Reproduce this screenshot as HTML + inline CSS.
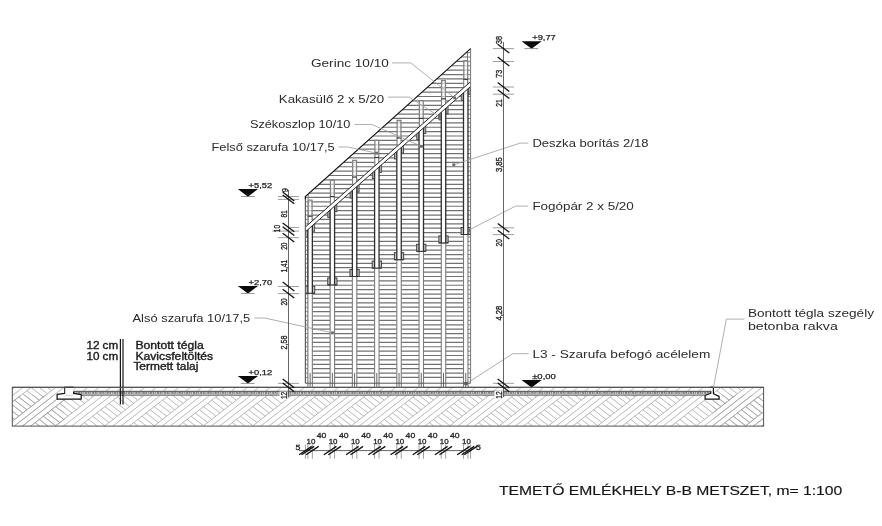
<!DOCTYPE html>
<html lang="hu">
<head>
<meta charset="utf-8">
<title>TEMETŐ EMLÉKHELY B-B METSZET</title>
<style>
html,body{margin:0;padding:0;background:#fff;}
body{width:882px;height:526px;overflow:hidden;}
svg{display:block;font-family:"Liberation Sans",sans-serif;filter:blur(0.5px);}
text{white-space:pre;}
</style>
</head>
<body>
<svg width="882" height="526" viewBox="0 0 882 526">
<rect width="882" height="526" fill="#fff"/>
<defs>
<clipPath id="cg"><rect x="12.3" y="395.1" width="751.3000000000001" height="31.0"/></clipPath>
<clipPath id="cgl"><rect x="12.3" y="387.3" width="52.5" height="38.80000000000001"/></clipPath>
<clipPath id="cgr"><rect x="713.4" y="387.3" width="50.200000000000045" height="38.80000000000001"/></clipPath>
<clipPath id="cbr"><rect x="73.5" y="387.3" width="637.3" height="4.0"/></clipPath>
<clipPath id="cwall"><polygon points="305.4,196.62 470.6,48.6 470.6,383.2 305.4,383.2"/></clipPath>
</defs>
<g clip-path="url(#cg)" stroke="#a2a2a2" stroke-width="0.75" fill="none">
<path d="M-1.81 374.60L10.51 384.20"/>
<path d="M-23.66 430.00L35.40 384.00"/>
<path d="M-31.87 430.00L27.19 384.00"/>
<path d="M-40.09 430.00L18.98 384.00"/>
<path d="M-48.30 430.00L10.76 384.00"/>
<path d="M-1.81 412.98L10.51 422.58"/>
<path d="M2.29 409.79L14.61 419.38"/>
<path d="M6.40 406.59L18.72 416.18"/>
<path d="M10.51 403.39L22.83 412.98"/>
<path d="M14.61 400.19L26.93 409.79"/>
<path d="M18.72 396.99L31.04 406.59"/>
<path d="M22.83 393.79L35.15 403.39"/>
<path d="M26.93 390.60L39.25 400.19"/>
<path d="M31.04 387.40L43.36 396.99"/>
<path d="M35.15 384.20L47.47 393.79"/>
<path d="M39.25 381.00L51.57 390.60"/>
<path d="M43.36 377.80L55.68 387.40"/>
<path d="M47.47 374.60L59.79 384.20"/>
<path d="M25.62 430.00L84.68 384.00"/>
<path d="M17.41 430.00L76.47 384.00"/>
<path d="M9.19 430.00L68.26 384.00"/>
<path d="M0.98 430.00L60.04 384.00"/>
<path d="M26.93 428.98L39.25 438.57"/>
<path d="M31.04 425.78L43.36 435.37"/>
<path d="M35.15 422.58L47.47 432.17"/>
<path d="M39.25 419.38L51.57 428.98"/>
<path d="M43.36 416.18L55.68 425.78"/>
<path d="M47.47 412.98L59.79 422.58"/>
<path d="M51.57 409.79L63.89 419.38"/>
<path d="M55.68 406.59L68.00 416.18"/>
<path d="M59.79 403.39L72.11 412.98"/>
<path d="M63.89 400.19L76.21 409.79"/>
<path d="M68.00 396.99L80.32 406.59"/>
<path d="M72.11 393.79L84.43 403.39"/>
<path d="M76.21 390.60L88.53 400.19"/>
<path d="M80.32 387.40L92.64 396.99"/>
<path d="M84.43 384.20L96.75 393.79"/>
<path d="M88.53 381.00L100.85 390.60"/>
<path d="M92.64 377.80L104.96 387.40"/>
<path d="M96.75 374.60L109.07 384.20"/>
<path d="M74.90 430.00L133.96 384.00"/>
<path d="M66.69 430.00L125.75 384.00"/>
<path d="M58.47 430.00L117.54 384.00"/>
<path d="M50.26 430.00L109.32 384.00"/>
<path d="M76.21 428.98L88.53 438.57"/>
<path d="M80.32 425.78L92.64 435.37"/>
<path d="M84.43 422.58L96.75 432.17"/>
<path d="M88.53 419.38L100.85 428.98"/>
<path d="M92.64 416.18L104.96 425.78"/>
<path d="M96.75 412.98L109.07 422.58"/>
<path d="M100.85 409.79L113.17 419.38"/>
<path d="M104.96 406.59L117.28 416.18"/>
<path d="M109.07 403.39L121.39 412.98"/>
<path d="M113.17 400.19L125.49 409.79"/>
<path d="M117.28 396.99L129.60 406.59"/>
<path d="M121.39 393.79L133.71 403.39"/>
<path d="M125.49 390.60L137.81 400.19"/>
<path d="M129.60 387.40L141.92 396.99"/>
<path d="M133.71 384.20L146.03 393.79"/>
<path d="M137.81 381.00L150.13 390.60"/>
<path d="M141.92 377.80L154.24 387.40"/>
<path d="M146.03 374.60L158.35 384.20"/>
<path d="M124.18 430.00L183.24 384.00"/>
<path d="M115.97 430.00L175.03 384.00"/>
<path d="M107.75 430.00L166.82 384.00"/>
<path d="M99.54 430.00L158.60 384.00"/>
<path d="M125.49 428.98L137.81 438.57"/>
<path d="M129.60 425.78L141.92 435.37"/>
<path d="M133.71 422.58L146.03 432.17"/>
<path d="M137.81 419.38L150.13 428.98"/>
<path d="M141.92 416.18L154.24 425.78"/>
<path d="M146.03 412.98L158.35 422.58"/>
<path d="M150.13 409.79L162.45 419.38"/>
<path d="M154.24 406.59L166.56 416.18"/>
<path d="M158.35 403.39L170.67 412.98"/>
<path d="M162.45 400.19L174.77 409.79"/>
<path d="M166.56 396.99L178.88 406.59"/>
<path d="M170.67 393.79L182.99 403.39"/>
<path d="M174.77 390.60L187.09 400.19"/>
<path d="M178.88 387.40L191.20 396.99"/>
<path d="M182.99 384.20L195.31 393.79"/>
<path d="M187.09 381.00L199.41 390.60"/>
<path d="M191.20 377.80L203.52 387.40"/>
<path d="M195.31 374.60L207.63 384.20"/>
<path d="M173.46 430.00L232.52 384.00"/>
<path d="M165.25 430.00L224.31 384.00"/>
<path d="M157.03 430.00L216.10 384.00"/>
<path d="M148.82 430.00L207.88 384.00"/>
<path d="M174.77 428.98L187.09 438.57"/>
<path d="M178.88 425.78L191.20 435.37"/>
<path d="M182.99 422.58L195.31 432.17"/>
<path d="M187.09 419.38L199.41 428.98"/>
<path d="M191.20 416.18L203.52 425.78"/>
<path d="M195.31 412.98L207.63 422.58"/>
<path d="M199.41 409.79L211.73 419.38"/>
<path d="M203.52 406.59L215.84 416.18"/>
<path d="M207.63 403.39L219.95 412.98"/>
<path d="M211.73 400.19L224.05 409.79"/>
<path d="M215.84 396.99L228.16 406.59"/>
<path d="M219.95 393.79L232.27 403.39"/>
<path d="M224.05 390.60L236.37 400.19"/>
<path d="M228.16 387.40L240.48 396.99"/>
<path d="M232.27 384.20L244.59 393.79"/>
<path d="M236.37 381.00L248.69 390.60"/>
<path d="M240.48 377.80L252.80 387.40"/>
<path d="M244.59 374.60L256.91 384.20"/>
<path d="M222.74 430.00L281.80 384.00"/>
<path d="M214.53 430.00L273.59 384.00"/>
<path d="M206.31 430.00L265.38 384.00"/>
<path d="M198.10 430.00L257.16 384.00"/>
<path d="M224.05 428.98L236.37 438.57"/>
<path d="M228.16 425.78L240.48 435.37"/>
<path d="M232.27 422.58L244.59 432.17"/>
<path d="M236.37 419.38L248.69 428.98"/>
<path d="M240.48 416.18L252.80 425.78"/>
<path d="M244.59 412.98L256.91 422.58"/>
<path d="M248.69 409.79L261.01 419.38"/>
<path d="M252.80 406.59L265.12 416.18"/>
<path d="M256.91 403.39L269.23 412.98"/>
<path d="M261.01 400.19L273.33 409.79"/>
<path d="M265.12 396.99L277.44 406.59"/>
<path d="M269.23 393.79L281.55 403.39"/>
<path d="M273.33 390.60L285.65 400.19"/>
<path d="M277.44 387.40L289.76 396.99"/>
<path d="M281.55 384.20L293.87 393.79"/>
<path d="M285.65 381.00L297.97 390.60"/>
<path d="M289.76 377.80L302.08 387.40"/>
<path d="M293.87 374.60L306.19 384.20"/>
<path d="M272.02 430.00L331.08 384.00"/>
<path d="M263.81 430.00L322.87 384.00"/>
<path d="M255.59 430.00L314.66 384.00"/>
<path d="M247.38 430.00L306.44 384.00"/>
<path d="M273.33 428.98L285.65 438.57"/>
<path d="M277.44 425.78L289.76 435.37"/>
<path d="M281.55 422.58L293.87 432.17"/>
<path d="M285.65 419.38L297.97 428.98"/>
<path d="M289.76 416.18L302.08 425.78"/>
<path d="M293.87 412.98L306.19 422.58"/>
<path d="M297.97 409.79L310.29 419.38"/>
<path d="M302.08 406.59L314.40 416.18"/>
<path d="M306.19 403.39L318.51 412.98"/>
<path d="M310.29 400.19L322.61 409.79"/>
<path d="M314.40 396.99L326.72 406.59"/>
<path d="M318.51 393.79L330.83 403.39"/>
<path d="M322.61 390.60L334.93 400.19"/>
<path d="M326.72 387.40L339.04 396.99"/>
<path d="M330.83 384.20L343.15 393.79"/>
<path d="M334.93 381.00L347.25 390.60"/>
<path d="M339.04 377.80L351.36 387.40"/>
<path d="M343.15 374.60L355.47 384.20"/>
<path d="M321.30 430.00L380.36 384.00"/>
<path d="M313.09 430.00L372.15 384.00"/>
<path d="M304.87 430.00L363.94 384.00"/>
<path d="M296.66 430.00L355.72 384.00"/>
<path d="M322.61 428.98L334.93 438.57"/>
<path d="M326.72 425.78L339.04 435.37"/>
<path d="M330.83 422.58L343.15 432.17"/>
<path d="M334.93 419.38L347.25 428.98"/>
<path d="M339.04 416.18L351.36 425.78"/>
<path d="M343.15 412.98L355.47 422.58"/>
<path d="M347.25 409.79L359.57 419.38"/>
<path d="M351.36 406.59L363.68 416.18"/>
<path d="M355.47 403.39L367.79 412.98"/>
<path d="M359.57 400.19L371.89 409.79"/>
<path d="M363.68 396.99L376.00 406.59"/>
<path d="M367.79 393.79L380.11 403.39"/>
<path d="M371.89 390.60L384.21 400.19"/>
<path d="M376.00 387.40L388.32 396.99"/>
<path d="M380.11 384.20L392.43 393.79"/>
<path d="M384.21 381.00L396.53 390.60"/>
<path d="M388.32 377.80L400.64 387.40"/>
<path d="M392.43 374.60L404.75 384.20"/>
<path d="M370.58 430.00L429.64 384.00"/>
<path d="M362.37 430.00L421.43 384.00"/>
<path d="M354.15 430.00L413.22 384.00"/>
<path d="M345.94 430.00L405.00 384.00"/>
<path d="M371.89 428.98L384.21 438.57"/>
<path d="M376.00 425.78L388.32 435.37"/>
<path d="M380.11 422.58L392.43 432.17"/>
<path d="M384.21 419.38L396.53 428.98"/>
<path d="M388.32 416.18L400.64 425.78"/>
<path d="M392.43 412.98L404.75 422.58"/>
<path d="M396.53 409.79L408.85 419.38"/>
<path d="M400.64 406.59L412.96 416.18"/>
<path d="M404.75 403.39L417.07 412.98"/>
<path d="M408.85 400.19L421.17 409.79"/>
<path d="M412.96 396.99L425.28 406.59"/>
<path d="M417.07 393.79L429.39 403.39"/>
<path d="M421.17 390.60L433.49 400.19"/>
<path d="M425.28 387.40L437.60 396.99"/>
<path d="M429.39 384.20L441.71 393.79"/>
<path d="M433.49 381.00L445.81 390.60"/>
<path d="M437.60 377.80L449.92 387.40"/>
<path d="M441.71 374.60L454.03 384.20"/>
<path d="M419.86 430.00L478.92 384.00"/>
<path d="M411.65 430.00L470.71 384.00"/>
<path d="M403.43 430.00L462.50 384.00"/>
<path d="M395.22 430.00L454.28 384.00"/>
<path d="M421.17 428.98L433.49 438.57"/>
<path d="M425.28 425.78L437.60 435.37"/>
<path d="M429.39 422.58L441.71 432.17"/>
<path d="M433.49 419.38L445.81 428.98"/>
<path d="M437.60 416.18L449.92 425.78"/>
<path d="M441.71 412.98L454.03 422.58"/>
<path d="M445.81 409.79L458.13 419.38"/>
<path d="M449.92 406.59L462.24 416.18"/>
<path d="M454.03 403.39L466.35 412.98"/>
<path d="M458.13 400.19L470.45 409.79"/>
<path d="M462.24 396.99L474.56 406.59"/>
<path d="M466.35 393.79L478.67 403.39"/>
<path d="M470.45 390.60L482.77 400.19"/>
<path d="M474.56 387.40L486.88 396.99"/>
<path d="M478.67 384.20L490.99 393.79"/>
<path d="M482.77 381.00L495.09 390.60"/>
<path d="M486.88 377.80L499.20 387.40"/>
<path d="M490.99 374.60L503.31 384.20"/>
<path d="M469.14 430.00L528.20 384.00"/>
<path d="M460.93 430.00L519.99 384.00"/>
<path d="M452.71 430.00L511.78 384.00"/>
<path d="M444.50 430.00L503.56 384.00"/>
<path d="M470.45 428.98L482.77 438.57"/>
<path d="M474.56 425.78L486.88 435.37"/>
<path d="M478.67 422.58L490.99 432.17"/>
<path d="M482.77 419.38L495.09 428.98"/>
<path d="M486.88 416.18L499.20 425.78"/>
<path d="M490.99 412.98L503.31 422.58"/>
<path d="M495.09 409.79L507.41 419.38"/>
<path d="M499.20 406.59L511.52 416.18"/>
<path d="M503.31 403.39L515.63 412.98"/>
<path d="M507.41 400.19L519.73 409.79"/>
<path d="M511.52 396.99L523.84 406.59"/>
<path d="M515.63 393.79L527.95 403.39"/>
<path d="M519.73 390.60L532.05 400.19"/>
<path d="M523.84 387.40L536.16 396.99"/>
<path d="M527.95 384.20L540.27 393.79"/>
<path d="M532.05 381.00L544.37 390.60"/>
<path d="M536.16 377.80L548.48 387.40"/>
<path d="M540.27 374.60L552.59 384.20"/>
<path d="M518.42 430.00L577.48 384.00"/>
<path d="M510.21 430.00L569.27 384.00"/>
<path d="M501.99 430.00L561.06 384.00"/>
<path d="M493.78 430.00L552.84 384.00"/>
<path d="M519.73 428.98L532.05 438.57"/>
<path d="M523.84 425.78L536.16 435.37"/>
<path d="M527.95 422.58L540.27 432.17"/>
<path d="M532.05 419.38L544.37 428.98"/>
<path d="M536.16 416.18L548.48 425.78"/>
<path d="M540.27 412.98L552.59 422.58"/>
<path d="M544.37 409.79L556.69 419.38"/>
<path d="M548.48 406.59L560.80 416.18"/>
<path d="M552.59 403.39L564.91 412.98"/>
<path d="M556.69 400.19L569.01 409.79"/>
<path d="M560.80 396.99L573.12 406.59"/>
<path d="M564.91 393.79L577.23 403.39"/>
<path d="M569.01 390.60L581.33 400.19"/>
<path d="M573.12 387.40L585.44 396.99"/>
<path d="M577.23 384.20L589.55 393.79"/>
<path d="M581.33 381.00L593.65 390.60"/>
<path d="M585.44 377.80L597.76 387.40"/>
<path d="M589.55 374.60L601.87 384.20"/>
<path d="M567.70 430.00L626.76 384.00"/>
<path d="M559.49 430.00L618.55 384.00"/>
<path d="M551.27 430.00L610.34 384.00"/>
<path d="M543.06 430.00L602.12 384.00"/>
<path d="M569.01 428.98L581.33 438.57"/>
<path d="M573.12 425.78L585.44 435.37"/>
<path d="M577.23 422.58L589.55 432.17"/>
<path d="M581.33 419.38L593.65 428.98"/>
<path d="M585.44 416.18L597.76 425.78"/>
<path d="M589.55 412.98L601.87 422.58"/>
<path d="M593.65 409.79L605.97 419.38"/>
<path d="M597.76 406.59L610.08 416.18"/>
<path d="M601.87 403.39L614.19 412.98"/>
<path d="M605.97 400.19L618.29 409.79"/>
<path d="M610.08 396.99L622.40 406.59"/>
<path d="M614.19 393.79L626.51 403.39"/>
<path d="M618.29 390.60L630.61 400.19"/>
<path d="M622.40 387.40L634.72 396.99"/>
<path d="M626.51 384.20L638.83 393.79"/>
<path d="M630.61 381.00L642.93 390.60"/>
<path d="M634.72 377.80L647.04 387.40"/>
<path d="M638.83 374.60L651.15 384.20"/>
<path d="M616.98 430.00L676.04 384.00"/>
<path d="M608.77 430.00L667.83 384.00"/>
<path d="M600.55 430.00L659.62 384.00"/>
<path d="M592.34 430.00L651.40 384.00"/>
<path d="M618.29 428.98L630.61 438.57"/>
<path d="M622.40 425.78L634.72 435.37"/>
<path d="M626.51 422.58L638.83 432.17"/>
<path d="M630.61 419.38L642.93 428.98"/>
<path d="M634.72 416.18L647.04 425.78"/>
<path d="M638.83 412.98L651.15 422.58"/>
<path d="M642.93 409.79L655.25 419.38"/>
<path d="M647.04 406.59L659.36 416.18"/>
<path d="M651.15 403.39L663.47 412.98"/>
<path d="M655.25 400.19L667.57 409.79"/>
<path d="M659.36 396.99L671.68 406.59"/>
<path d="M663.47 393.79L675.79 403.39"/>
<path d="M667.57 390.60L679.89 400.19"/>
<path d="M671.68 387.40L684.00 396.99"/>
<path d="M675.79 384.20L688.11 393.79"/>
<path d="M679.89 381.00L692.21 390.60"/>
<path d="M684.00 377.80L696.32 387.40"/>
<path d="M688.11 374.60L700.43 384.20"/>
<path d="M666.26 430.00L725.32 384.00"/>
<path d="M658.05 430.00L717.11 384.00"/>
<path d="M649.83 430.00L708.90 384.00"/>
<path d="M641.62 430.00L700.68 384.00"/>
<path d="M667.57 428.98L679.89 438.57"/>
<path d="M671.68 425.78L684.00 435.37"/>
<path d="M675.79 422.58L688.11 432.17"/>
<path d="M679.89 419.38L692.21 428.98"/>
<path d="M684.00 416.18L696.32 425.78"/>
<path d="M688.11 412.98L700.43 422.58"/>
<path d="M692.21 409.79L704.53 419.38"/>
<path d="M696.32 406.59L708.64 416.18"/>
<path d="M700.43 403.39L712.75 412.98"/>
<path d="M704.53 400.19L716.85 409.79"/>
<path d="M708.64 396.99L720.96 406.59"/>
<path d="M712.75 393.79L725.07 403.39"/>
<path d="M716.85 390.60L729.17 400.19"/>
<path d="M720.96 387.40L733.28 396.99"/>
<path d="M725.07 384.20L737.39 393.79"/>
<path d="M729.17 381.00L741.49 390.60"/>
<path d="M733.28 377.80L745.60 387.40"/>
<path d="M737.39 374.60L749.71 384.20"/>
<path d="M715.54 430.00L774.60 384.00"/>
<path d="M707.33 430.00L766.39 384.00"/>
<path d="M699.11 430.00L758.18 384.00"/>
<path d="M690.90 430.00L749.96 384.00"/>
<path d="M716.85 428.98L729.17 438.57"/>
<path d="M720.96 425.78L733.28 435.37"/>
<path d="M725.07 422.58L737.39 432.17"/>
<path d="M729.17 419.38L741.49 428.98"/>
<path d="M733.28 416.18L745.60 425.78"/>
<path d="M737.39 412.98L749.71 422.58"/>
<path d="M741.49 409.79L753.81 419.38"/>
<path d="M745.60 406.59L757.92 416.18"/>
<path d="M749.71 403.39L762.03 412.98"/>
<path d="M753.81 400.19L766.13 409.79"/>
<path d="M757.92 396.99L770.24 406.59"/>
<path d="M762.03 393.79L774.35 403.39"/>
<path d="M766.13 390.60L778.45 400.19"/>
<path d="M764.82 430.00L823.88 384.00"/>
<path d="M756.61 430.00L815.67 384.00"/>
<path d="M748.39 430.00L807.46 384.00"/>
<path d="M740.18 430.00L799.24 384.00"/>
<path d="M766.13 428.98L778.45 438.57"/>
</g>
<g clip-path="url(#cgl)" stroke="#a2a2a2" stroke-width="0.75" fill="none">
<path d="M-1.81 374.60L10.51 384.20"/>
<path d="M-23.66 430.00L35.40 384.00"/>
<path d="M-31.87 430.00L27.19 384.00"/>
<path d="M-40.09 430.00L18.98 384.00"/>
<path d="M-48.30 430.00L10.76 384.00"/>
<path d="M-1.81 412.98L10.51 422.58"/>
<path d="M2.29 409.79L14.61 419.38"/>
<path d="M6.40 406.59L18.72 416.18"/>
<path d="M10.51 403.39L22.83 412.98"/>
<path d="M14.61 400.19L26.93 409.79"/>
<path d="M18.72 396.99L31.04 406.59"/>
<path d="M22.83 393.79L35.15 403.39"/>
<path d="M26.93 390.60L39.25 400.19"/>
<path d="M31.04 387.40L43.36 396.99"/>
<path d="M35.15 384.20L47.47 393.79"/>
<path d="M39.25 381.00L51.57 390.60"/>
<path d="M43.36 377.80L55.68 387.40"/>
<path d="M47.47 374.60L59.79 384.20"/>
<path d="M25.62 430.00L84.68 384.00"/>
<path d="M17.41 430.00L76.47 384.00"/>
<path d="M9.19 430.00L68.26 384.00"/>
<path d="M0.98 430.00L60.04 384.00"/>
<path d="M26.93 428.98L39.25 438.57"/>
<path d="M31.04 425.78L43.36 435.37"/>
<path d="M35.15 422.58L47.47 432.17"/>
<path d="M39.25 419.38L51.57 428.98"/>
<path d="M43.36 416.18L55.68 425.78"/>
<path d="M47.47 412.98L59.79 422.58"/>
<path d="M51.57 409.79L63.89 419.38"/>
<path d="M55.68 406.59L68.00 416.18"/>
<path d="M59.79 403.39L72.11 412.98"/>
<path d="M63.89 400.19L76.21 409.79"/>
<path d="M68.00 396.99L80.32 406.59"/>
<path d="M72.11 393.79L84.43 403.39"/>
<path d="M76.21 390.60L88.53 400.19"/>
<path d="M80.32 387.40L92.64 396.99"/>
<path d="M84.43 384.20L96.75 393.79"/>
<path d="M88.53 381.00L100.85 390.60"/>
<path d="M92.64 377.80L104.96 387.40"/>
<path d="M96.75 374.60L109.07 384.20"/>
<path d="M74.90 430.00L133.96 384.00"/>
<path d="M66.69 430.00L125.75 384.00"/>
<path d="M58.47 430.00L117.54 384.00"/>
<path d="M50.26 430.00L109.32 384.00"/>
<path d="M76.21 428.98L88.53 438.57"/>
<path d="M80.32 425.78L92.64 435.37"/>
<path d="M84.43 422.58L96.75 432.17"/>
<path d="M88.53 419.38L100.85 428.98"/>
<path d="M92.64 416.18L104.96 425.78"/>
<path d="M96.75 412.98L109.07 422.58"/>
<path d="M100.85 409.79L113.17 419.38"/>
<path d="M104.96 406.59L117.28 416.18"/>
<path d="M109.07 403.39L121.39 412.98"/>
<path d="M113.17 400.19L125.49 409.79"/>
<path d="M117.28 396.99L129.60 406.59"/>
<path d="M121.39 393.79L133.71 403.39"/>
<path d="M125.49 390.60L137.81 400.19"/>
<path d="M129.60 387.40L141.92 396.99"/>
<path d="M133.71 384.20L146.03 393.79"/>
<path d="M137.81 381.00L150.13 390.60"/>
<path d="M141.92 377.80L154.24 387.40"/>
<path d="M146.03 374.60L158.35 384.20"/>
<path d="M124.18 430.00L183.24 384.00"/>
<path d="M115.97 430.00L175.03 384.00"/>
<path d="M107.75 430.00L166.82 384.00"/>
<path d="M99.54 430.00L158.60 384.00"/>
<path d="M125.49 428.98L137.81 438.57"/>
<path d="M129.60 425.78L141.92 435.37"/>
<path d="M133.71 422.58L146.03 432.17"/>
<path d="M137.81 419.38L150.13 428.98"/>
<path d="M141.92 416.18L154.24 425.78"/>
<path d="M146.03 412.98L158.35 422.58"/>
<path d="M150.13 409.79L162.45 419.38"/>
<path d="M154.24 406.59L166.56 416.18"/>
<path d="M158.35 403.39L170.67 412.98"/>
<path d="M162.45 400.19L174.77 409.79"/>
<path d="M166.56 396.99L178.88 406.59"/>
<path d="M170.67 393.79L182.99 403.39"/>
<path d="M174.77 390.60L187.09 400.19"/>
<path d="M178.88 387.40L191.20 396.99"/>
<path d="M182.99 384.20L195.31 393.79"/>
<path d="M187.09 381.00L199.41 390.60"/>
<path d="M191.20 377.80L203.52 387.40"/>
<path d="M195.31 374.60L207.63 384.20"/>
<path d="M173.46 430.00L232.52 384.00"/>
<path d="M165.25 430.00L224.31 384.00"/>
<path d="M157.03 430.00L216.10 384.00"/>
<path d="M148.82 430.00L207.88 384.00"/>
<path d="M174.77 428.98L187.09 438.57"/>
<path d="M178.88 425.78L191.20 435.37"/>
<path d="M182.99 422.58L195.31 432.17"/>
<path d="M187.09 419.38L199.41 428.98"/>
<path d="M191.20 416.18L203.52 425.78"/>
<path d="M195.31 412.98L207.63 422.58"/>
<path d="M199.41 409.79L211.73 419.38"/>
<path d="M203.52 406.59L215.84 416.18"/>
<path d="M207.63 403.39L219.95 412.98"/>
<path d="M211.73 400.19L224.05 409.79"/>
<path d="M215.84 396.99L228.16 406.59"/>
<path d="M219.95 393.79L232.27 403.39"/>
<path d="M224.05 390.60L236.37 400.19"/>
<path d="M228.16 387.40L240.48 396.99"/>
<path d="M232.27 384.20L244.59 393.79"/>
<path d="M236.37 381.00L248.69 390.60"/>
<path d="M240.48 377.80L252.80 387.40"/>
<path d="M244.59 374.60L256.91 384.20"/>
<path d="M222.74 430.00L281.80 384.00"/>
<path d="M214.53 430.00L273.59 384.00"/>
<path d="M206.31 430.00L265.38 384.00"/>
<path d="M198.10 430.00L257.16 384.00"/>
<path d="M224.05 428.98L236.37 438.57"/>
<path d="M228.16 425.78L240.48 435.37"/>
<path d="M232.27 422.58L244.59 432.17"/>
<path d="M236.37 419.38L248.69 428.98"/>
<path d="M240.48 416.18L252.80 425.78"/>
<path d="M244.59 412.98L256.91 422.58"/>
<path d="M248.69 409.79L261.01 419.38"/>
<path d="M252.80 406.59L265.12 416.18"/>
<path d="M256.91 403.39L269.23 412.98"/>
<path d="M261.01 400.19L273.33 409.79"/>
<path d="M265.12 396.99L277.44 406.59"/>
<path d="M269.23 393.79L281.55 403.39"/>
<path d="M273.33 390.60L285.65 400.19"/>
<path d="M277.44 387.40L289.76 396.99"/>
<path d="M281.55 384.20L293.87 393.79"/>
<path d="M285.65 381.00L297.97 390.60"/>
<path d="M289.76 377.80L302.08 387.40"/>
<path d="M293.87 374.60L306.19 384.20"/>
<path d="M272.02 430.00L331.08 384.00"/>
<path d="M263.81 430.00L322.87 384.00"/>
<path d="M255.59 430.00L314.66 384.00"/>
<path d="M247.38 430.00L306.44 384.00"/>
<path d="M273.33 428.98L285.65 438.57"/>
<path d="M277.44 425.78L289.76 435.37"/>
<path d="M281.55 422.58L293.87 432.17"/>
<path d="M285.65 419.38L297.97 428.98"/>
<path d="M289.76 416.18L302.08 425.78"/>
<path d="M293.87 412.98L306.19 422.58"/>
<path d="M297.97 409.79L310.29 419.38"/>
<path d="M302.08 406.59L314.40 416.18"/>
<path d="M306.19 403.39L318.51 412.98"/>
<path d="M310.29 400.19L322.61 409.79"/>
<path d="M314.40 396.99L326.72 406.59"/>
<path d="M318.51 393.79L330.83 403.39"/>
<path d="M322.61 390.60L334.93 400.19"/>
<path d="M326.72 387.40L339.04 396.99"/>
<path d="M330.83 384.20L343.15 393.79"/>
<path d="M334.93 381.00L347.25 390.60"/>
<path d="M339.04 377.80L351.36 387.40"/>
<path d="M343.15 374.60L355.47 384.20"/>
<path d="M321.30 430.00L380.36 384.00"/>
<path d="M313.09 430.00L372.15 384.00"/>
<path d="M304.87 430.00L363.94 384.00"/>
<path d="M296.66 430.00L355.72 384.00"/>
<path d="M322.61 428.98L334.93 438.57"/>
<path d="M326.72 425.78L339.04 435.37"/>
<path d="M330.83 422.58L343.15 432.17"/>
<path d="M334.93 419.38L347.25 428.98"/>
<path d="M339.04 416.18L351.36 425.78"/>
<path d="M343.15 412.98L355.47 422.58"/>
<path d="M347.25 409.79L359.57 419.38"/>
<path d="M351.36 406.59L363.68 416.18"/>
<path d="M355.47 403.39L367.79 412.98"/>
<path d="M359.57 400.19L371.89 409.79"/>
<path d="M363.68 396.99L376.00 406.59"/>
<path d="M367.79 393.79L380.11 403.39"/>
<path d="M371.89 390.60L384.21 400.19"/>
<path d="M376.00 387.40L388.32 396.99"/>
<path d="M380.11 384.20L392.43 393.79"/>
<path d="M384.21 381.00L396.53 390.60"/>
<path d="M388.32 377.80L400.64 387.40"/>
<path d="M392.43 374.60L404.75 384.20"/>
<path d="M370.58 430.00L429.64 384.00"/>
<path d="M362.37 430.00L421.43 384.00"/>
<path d="M354.15 430.00L413.22 384.00"/>
<path d="M345.94 430.00L405.00 384.00"/>
<path d="M371.89 428.98L384.21 438.57"/>
<path d="M376.00 425.78L388.32 435.37"/>
<path d="M380.11 422.58L392.43 432.17"/>
<path d="M384.21 419.38L396.53 428.98"/>
<path d="M388.32 416.18L400.64 425.78"/>
<path d="M392.43 412.98L404.75 422.58"/>
<path d="M396.53 409.79L408.85 419.38"/>
<path d="M400.64 406.59L412.96 416.18"/>
<path d="M404.75 403.39L417.07 412.98"/>
<path d="M408.85 400.19L421.17 409.79"/>
<path d="M412.96 396.99L425.28 406.59"/>
<path d="M417.07 393.79L429.39 403.39"/>
<path d="M421.17 390.60L433.49 400.19"/>
<path d="M425.28 387.40L437.60 396.99"/>
<path d="M429.39 384.20L441.71 393.79"/>
<path d="M433.49 381.00L445.81 390.60"/>
<path d="M437.60 377.80L449.92 387.40"/>
<path d="M441.71 374.60L454.03 384.20"/>
<path d="M419.86 430.00L478.92 384.00"/>
<path d="M411.65 430.00L470.71 384.00"/>
<path d="M403.43 430.00L462.50 384.00"/>
<path d="M395.22 430.00L454.28 384.00"/>
<path d="M421.17 428.98L433.49 438.57"/>
<path d="M425.28 425.78L437.60 435.37"/>
<path d="M429.39 422.58L441.71 432.17"/>
<path d="M433.49 419.38L445.81 428.98"/>
<path d="M437.60 416.18L449.92 425.78"/>
<path d="M441.71 412.98L454.03 422.58"/>
<path d="M445.81 409.79L458.13 419.38"/>
<path d="M449.92 406.59L462.24 416.18"/>
<path d="M454.03 403.39L466.35 412.98"/>
<path d="M458.13 400.19L470.45 409.79"/>
<path d="M462.24 396.99L474.56 406.59"/>
<path d="M466.35 393.79L478.67 403.39"/>
<path d="M470.45 390.60L482.77 400.19"/>
<path d="M474.56 387.40L486.88 396.99"/>
<path d="M478.67 384.20L490.99 393.79"/>
<path d="M482.77 381.00L495.09 390.60"/>
<path d="M486.88 377.80L499.20 387.40"/>
<path d="M490.99 374.60L503.31 384.20"/>
<path d="M469.14 430.00L528.20 384.00"/>
<path d="M460.93 430.00L519.99 384.00"/>
<path d="M452.71 430.00L511.78 384.00"/>
<path d="M444.50 430.00L503.56 384.00"/>
<path d="M470.45 428.98L482.77 438.57"/>
<path d="M474.56 425.78L486.88 435.37"/>
<path d="M478.67 422.58L490.99 432.17"/>
<path d="M482.77 419.38L495.09 428.98"/>
<path d="M486.88 416.18L499.20 425.78"/>
<path d="M490.99 412.98L503.31 422.58"/>
<path d="M495.09 409.79L507.41 419.38"/>
<path d="M499.20 406.59L511.52 416.18"/>
<path d="M503.31 403.39L515.63 412.98"/>
<path d="M507.41 400.19L519.73 409.79"/>
<path d="M511.52 396.99L523.84 406.59"/>
<path d="M515.63 393.79L527.95 403.39"/>
<path d="M519.73 390.60L532.05 400.19"/>
<path d="M523.84 387.40L536.16 396.99"/>
<path d="M527.95 384.20L540.27 393.79"/>
<path d="M532.05 381.00L544.37 390.60"/>
<path d="M536.16 377.80L548.48 387.40"/>
<path d="M540.27 374.60L552.59 384.20"/>
<path d="M518.42 430.00L577.48 384.00"/>
<path d="M510.21 430.00L569.27 384.00"/>
<path d="M501.99 430.00L561.06 384.00"/>
<path d="M493.78 430.00L552.84 384.00"/>
<path d="M519.73 428.98L532.05 438.57"/>
<path d="M523.84 425.78L536.16 435.37"/>
<path d="M527.95 422.58L540.27 432.17"/>
<path d="M532.05 419.38L544.37 428.98"/>
<path d="M536.16 416.18L548.48 425.78"/>
<path d="M540.27 412.98L552.59 422.58"/>
<path d="M544.37 409.79L556.69 419.38"/>
<path d="M548.48 406.59L560.80 416.18"/>
<path d="M552.59 403.39L564.91 412.98"/>
<path d="M556.69 400.19L569.01 409.79"/>
<path d="M560.80 396.99L573.12 406.59"/>
<path d="M564.91 393.79L577.23 403.39"/>
<path d="M569.01 390.60L581.33 400.19"/>
<path d="M573.12 387.40L585.44 396.99"/>
<path d="M577.23 384.20L589.55 393.79"/>
<path d="M581.33 381.00L593.65 390.60"/>
<path d="M585.44 377.80L597.76 387.40"/>
<path d="M589.55 374.60L601.87 384.20"/>
<path d="M567.70 430.00L626.76 384.00"/>
<path d="M559.49 430.00L618.55 384.00"/>
<path d="M551.27 430.00L610.34 384.00"/>
<path d="M543.06 430.00L602.12 384.00"/>
<path d="M569.01 428.98L581.33 438.57"/>
<path d="M573.12 425.78L585.44 435.37"/>
<path d="M577.23 422.58L589.55 432.17"/>
<path d="M581.33 419.38L593.65 428.98"/>
<path d="M585.44 416.18L597.76 425.78"/>
<path d="M589.55 412.98L601.87 422.58"/>
<path d="M593.65 409.79L605.97 419.38"/>
<path d="M597.76 406.59L610.08 416.18"/>
<path d="M601.87 403.39L614.19 412.98"/>
<path d="M605.97 400.19L618.29 409.79"/>
<path d="M610.08 396.99L622.40 406.59"/>
<path d="M614.19 393.79L626.51 403.39"/>
<path d="M618.29 390.60L630.61 400.19"/>
<path d="M622.40 387.40L634.72 396.99"/>
<path d="M626.51 384.20L638.83 393.79"/>
<path d="M630.61 381.00L642.93 390.60"/>
<path d="M634.72 377.80L647.04 387.40"/>
<path d="M638.83 374.60L651.15 384.20"/>
<path d="M616.98 430.00L676.04 384.00"/>
<path d="M608.77 430.00L667.83 384.00"/>
<path d="M600.55 430.00L659.62 384.00"/>
<path d="M592.34 430.00L651.40 384.00"/>
<path d="M618.29 428.98L630.61 438.57"/>
<path d="M622.40 425.78L634.72 435.37"/>
<path d="M626.51 422.58L638.83 432.17"/>
<path d="M630.61 419.38L642.93 428.98"/>
<path d="M634.72 416.18L647.04 425.78"/>
<path d="M638.83 412.98L651.15 422.58"/>
<path d="M642.93 409.79L655.25 419.38"/>
<path d="M647.04 406.59L659.36 416.18"/>
<path d="M651.15 403.39L663.47 412.98"/>
<path d="M655.25 400.19L667.57 409.79"/>
<path d="M659.36 396.99L671.68 406.59"/>
<path d="M663.47 393.79L675.79 403.39"/>
<path d="M667.57 390.60L679.89 400.19"/>
<path d="M671.68 387.40L684.00 396.99"/>
<path d="M675.79 384.20L688.11 393.79"/>
<path d="M679.89 381.00L692.21 390.60"/>
<path d="M684.00 377.80L696.32 387.40"/>
<path d="M688.11 374.60L700.43 384.20"/>
<path d="M666.26 430.00L725.32 384.00"/>
<path d="M658.05 430.00L717.11 384.00"/>
<path d="M649.83 430.00L708.90 384.00"/>
<path d="M641.62 430.00L700.68 384.00"/>
<path d="M667.57 428.98L679.89 438.57"/>
<path d="M671.68 425.78L684.00 435.37"/>
<path d="M675.79 422.58L688.11 432.17"/>
<path d="M679.89 419.38L692.21 428.98"/>
<path d="M684.00 416.18L696.32 425.78"/>
<path d="M688.11 412.98L700.43 422.58"/>
<path d="M692.21 409.79L704.53 419.38"/>
<path d="M696.32 406.59L708.64 416.18"/>
<path d="M700.43 403.39L712.75 412.98"/>
<path d="M704.53 400.19L716.85 409.79"/>
<path d="M708.64 396.99L720.96 406.59"/>
<path d="M712.75 393.79L725.07 403.39"/>
<path d="M716.85 390.60L729.17 400.19"/>
<path d="M720.96 387.40L733.28 396.99"/>
<path d="M725.07 384.20L737.39 393.79"/>
<path d="M729.17 381.00L741.49 390.60"/>
<path d="M733.28 377.80L745.60 387.40"/>
<path d="M737.39 374.60L749.71 384.20"/>
<path d="M715.54 430.00L774.60 384.00"/>
<path d="M707.33 430.00L766.39 384.00"/>
<path d="M699.11 430.00L758.18 384.00"/>
<path d="M690.90 430.00L749.96 384.00"/>
<path d="M716.85 428.98L729.17 438.57"/>
<path d="M720.96 425.78L733.28 435.37"/>
<path d="M725.07 422.58L737.39 432.17"/>
<path d="M729.17 419.38L741.49 428.98"/>
<path d="M733.28 416.18L745.60 425.78"/>
<path d="M737.39 412.98L749.71 422.58"/>
<path d="M741.49 409.79L753.81 419.38"/>
<path d="M745.60 406.59L757.92 416.18"/>
<path d="M749.71 403.39L762.03 412.98"/>
<path d="M753.81 400.19L766.13 409.79"/>
<path d="M757.92 396.99L770.24 406.59"/>
<path d="M762.03 393.79L774.35 403.39"/>
<path d="M766.13 390.60L778.45 400.19"/>
<path d="M764.82 430.00L823.88 384.00"/>
<path d="M756.61 430.00L815.67 384.00"/>
<path d="M748.39 430.00L807.46 384.00"/>
<path d="M740.18 430.00L799.24 384.00"/>
<path d="M766.13 428.98L778.45 438.57"/>
</g>
<g clip-path="url(#cgr)" stroke="#a2a2a2" stroke-width="0.75" fill="none">
<path d="M-1.81 374.60L10.51 384.20"/>
<path d="M-23.66 430.00L35.40 384.00"/>
<path d="M-31.87 430.00L27.19 384.00"/>
<path d="M-40.09 430.00L18.98 384.00"/>
<path d="M-48.30 430.00L10.76 384.00"/>
<path d="M-1.81 412.98L10.51 422.58"/>
<path d="M2.29 409.79L14.61 419.38"/>
<path d="M6.40 406.59L18.72 416.18"/>
<path d="M10.51 403.39L22.83 412.98"/>
<path d="M14.61 400.19L26.93 409.79"/>
<path d="M18.72 396.99L31.04 406.59"/>
<path d="M22.83 393.79L35.15 403.39"/>
<path d="M26.93 390.60L39.25 400.19"/>
<path d="M31.04 387.40L43.36 396.99"/>
<path d="M35.15 384.20L47.47 393.79"/>
<path d="M39.25 381.00L51.57 390.60"/>
<path d="M43.36 377.80L55.68 387.40"/>
<path d="M47.47 374.60L59.79 384.20"/>
<path d="M25.62 430.00L84.68 384.00"/>
<path d="M17.41 430.00L76.47 384.00"/>
<path d="M9.19 430.00L68.26 384.00"/>
<path d="M0.98 430.00L60.04 384.00"/>
<path d="M26.93 428.98L39.25 438.57"/>
<path d="M31.04 425.78L43.36 435.37"/>
<path d="M35.15 422.58L47.47 432.17"/>
<path d="M39.25 419.38L51.57 428.98"/>
<path d="M43.36 416.18L55.68 425.78"/>
<path d="M47.47 412.98L59.79 422.58"/>
<path d="M51.57 409.79L63.89 419.38"/>
<path d="M55.68 406.59L68.00 416.18"/>
<path d="M59.79 403.39L72.11 412.98"/>
<path d="M63.89 400.19L76.21 409.79"/>
<path d="M68.00 396.99L80.32 406.59"/>
<path d="M72.11 393.79L84.43 403.39"/>
<path d="M76.21 390.60L88.53 400.19"/>
<path d="M80.32 387.40L92.64 396.99"/>
<path d="M84.43 384.20L96.75 393.79"/>
<path d="M88.53 381.00L100.85 390.60"/>
<path d="M92.64 377.80L104.96 387.40"/>
<path d="M96.75 374.60L109.07 384.20"/>
<path d="M74.90 430.00L133.96 384.00"/>
<path d="M66.69 430.00L125.75 384.00"/>
<path d="M58.47 430.00L117.54 384.00"/>
<path d="M50.26 430.00L109.32 384.00"/>
<path d="M76.21 428.98L88.53 438.57"/>
<path d="M80.32 425.78L92.64 435.37"/>
<path d="M84.43 422.58L96.75 432.17"/>
<path d="M88.53 419.38L100.85 428.98"/>
<path d="M92.64 416.18L104.96 425.78"/>
<path d="M96.75 412.98L109.07 422.58"/>
<path d="M100.85 409.79L113.17 419.38"/>
<path d="M104.96 406.59L117.28 416.18"/>
<path d="M109.07 403.39L121.39 412.98"/>
<path d="M113.17 400.19L125.49 409.79"/>
<path d="M117.28 396.99L129.60 406.59"/>
<path d="M121.39 393.79L133.71 403.39"/>
<path d="M125.49 390.60L137.81 400.19"/>
<path d="M129.60 387.40L141.92 396.99"/>
<path d="M133.71 384.20L146.03 393.79"/>
<path d="M137.81 381.00L150.13 390.60"/>
<path d="M141.92 377.80L154.24 387.40"/>
<path d="M146.03 374.60L158.35 384.20"/>
<path d="M124.18 430.00L183.24 384.00"/>
<path d="M115.97 430.00L175.03 384.00"/>
<path d="M107.75 430.00L166.82 384.00"/>
<path d="M99.54 430.00L158.60 384.00"/>
<path d="M125.49 428.98L137.81 438.57"/>
<path d="M129.60 425.78L141.92 435.37"/>
<path d="M133.71 422.58L146.03 432.17"/>
<path d="M137.81 419.38L150.13 428.98"/>
<path d="M141.92 416.18L154.24 425.78"/>
<path d="M146.03 412.98L158.35 422.58"/>
<path d="M150.13 409.79L162.45 419.38"/>
<path d="M154.24 406.59L166.56 416.18"/>
<path d="M158.35 403.39L170.67 412.98"/>
<path d="M162.45 400.19L174.77 409.79"/>
<path d="M166.56 396.99L178.88 406.59"/>
<path d="M170.67 393.79L182.99 403.39"/>
<path d="M174.77 390.60L187.09 400.19"/>
<path d="M178.88 387.40L191.20 396.99"/>
<path d="M182.99 384.20L195.31 393.79"/>
<path d="M187.09 381.00L199.41 390.60"/>
<path d="M191.20 377.80L203.52 387.40"/>
<path d="M195.31 374.60L207.63 384.20"/>
<path d="M173.46 430.00L232.52 384.00"/>
<path d="M165.25 430.00L224.31 384.00"/>
<path d="M157.03 430.00L216.10 384.00"/>
<path d="M148.82 430.00L207.88 384.00"/>
<path d="M174.77 428.98L187.09 438.57"/>
<path d="M178.88 425.78L191.20 435.37"/>
<path d="M182.99 422.58L195.31 432.17"/>
<path d="M187.09 419.38L199.41 428.98"/>
<path d="M191.20 416.18L203.52 425.78"/>
<path d="M195.31 412.98L207.63 422.58"/>
<path d="M199.41 409.79L211.73 419.38"/>
<path d="M203.52 406.59L215.84 416.18"/>
<path d="M207.63 403.39L219.95 412.98"/>
<path d="M211.73 400.19L224.05 409.79"/>
<path d="M215.84 396.99L228.16 406.59"/>
<path d="M219.95 393.79L232.27 403.39"/>
<path d="M224.05 390.60L236.37 400.19"/>
<path d="M228.16 387.40L240.48 396.99"/>
<path d="M232.27 384.20L244.59 393.79"/>
<path d="M236.37 381.00L248.69 390.60"/>
<path d="M240.48 377.80L252.80 387.40"/>
<path d="M244.59 374.60L256.91 384.20"/>
<path d="M222.74 430.00L281.80 384.00"/>
<path d="M214.53 430.00L273.59 384.00"/>
<path d="M206.31 430.00L265.38 384.00"/>
<path d="M198.10 430.00L257.16 384.00"/>
<path d="M224.05 428.98L236.37 438.57"/>
<path d="M228.16 425.78L240.48 435.37"/>
<path d="M232.27 422.58L244.59 432.17"/>
<path d="M236.37 419.38L248.69 428.98"/>
<path d="M240.48 416.18L252.80 425.78"/>
<path d="M244.59 412.98L256.91 422.58"/>
<path d="M248.69 409.79L261.01 419.38"/>
<path d="M252.80 406.59L265.12 416.18"/>
<path d="M256.91 403.39L269.23 412.98"/>
<path d="M261.01 400.19L273.33 409.79"/>
<path d="M265.12 396.99L277.44 406.59"/>
<path d="M269.23 393.79L281.55 403.39"/>
<path d="M273.33 390.60L285.65 400.19"/>
<path d="M277.44 387.40L289.76 396.99"/>
<path d="M281.55 384.20L293.87 393.79"/>
<path d="M285.65 381.00L297.97 390.60"/>
<path d="M289.76 377.80L302.08 387.40"/>
<path d="M293.87 374.60L306.19 384.20"/>
<path d="M272.02 430.00L331.08 384.00"/>
<path d="M263.81 430.00L322.87 384.00"/>
<path d="M255.59 430.00L314.66 384.00"/>
<path d="M247.38 430.00L306.44 384.00"/>
<path d="M273.33 428.98L285.65 438.57"/>
<path d="M277.44 425.78L289.76 435.37"/>
<path d="M281.55 422.58L293.87 432.17"/>
<path d="M285.65 419.38L297.97 428.98"/>
<path d="M289.76 416.18L302.08 425.78"/>
<path d="M293.87 412.98L306.19 422.58"/>
<path d="M297.97 409.79L310.29 419.38"/>
<path d="M302.08 406.59L314.40 416.18"/>
<path d="M306.19 403.39L318.51 412.98"/>
<path d="M310.29 400.19L322.61 409.79"/>
<path d="M314.40 396.99L326.72 406.59"/>
<path d="M318.51 393.79L330.83 403.39"/>
<path d="M322.61 390.60L334.93 400.19"/>
<path d="M326.72 387.40L339.04 396.99"/>
<path d="M330.83 384.20L343.15 393.79"/>
<path d="M334.93 381.00L347.25 390.60"/>
<path d="M339.04 377.80L351.36 387.40"/>
<path d="M343.15 374.60L355.47 384.20"/>
<path d="M321.30 430.00L380.36 384.00"/>
<path d="M313.09 430.00L372.15 384.00"/>
<path d="M304.87 430.00L363.94 384.00"/>
<path d="M296.66 430.00L355.72 384.00"/>
<path d="M322.61 428.98L334.93 438.57"/>
<path d="M326.72 425.78L339.04 435.37"/>
<path d="M330.83 422.58L343.15 432.17"/>
<path d="M334.93 419.38L347.25 428.98"/>
<path d="M339.04 416.18L351.36 425.78"/>
<path d="M343.15 412.98L355.47 422.58"/>
<path d="M347.25 409.79L359.57 419.38"/>
<path d="M351.36 406.59L363.68 416.18"/>
<path d="M355.47 403.39L367.79 412.98"/>
<path d="M359.57 400.19L371.89 409.79"/>
<path d="M363.68 396.99L376.00 406.59"/>
<path d="M367.79 393.79L380.11 403.39"/>
<path d="M371.89 390.60L384.21 400.19"/>
<path d="M376.00 387.40L388.32 396.99"/>
<path d="M380.11 384.20L392.43 393.79"/>
<path d="M384.21 381.00L396.53 390.60"/>
<path d="M388.32 377.80L400.64 387.40"/>
<path d="M392.43 374.60L404.75 384.20"/>
<path d="M370.58 430.00L429.64 384.00"/>
<path d="M362.37 430.00L421.43 384.00"/>
<path d="M354.15 430.00L413.22 384.00"/>
<path d="M345.94 430.00L405.00 384.00"/>
<path d="M371.89 428.98L384.21 438.57"/>
<path d="M376.00 425.78L388.32 435.37"/>
<path d="M380.11 422.58L392.43 432.17"/>
<path d="M384.21 419.38L396.53 428.98"/>
<path d="M388.32 416.18L400.64 425.78"/>
<path d="M392.43 412.98L404.75 422.58"/>
<path d="M396.53 409.79L408.85 419.38"/>
<path d="M400.64 406.59L412.96 416.18"/>
<path d="M404.75 403.39L417.07 412.98"/>
<path d="M408.85 400.19L421.17 409.79"/>
<path d="M412.96 396.99L425.28 406.59"/>
<path d="M417.07 393.79L429.39 403.39"/>
<path d="M421.17 390.60L433.49 400.19"/>
<path d="M425.28 387.40L437.60 396.99"/>
<path d="M429.39 384.20L441.71 393.79"/>
<path d="M433.49 381.00L445.81 390.60"/>
<path d="M437.60 377.80L449.92 387.40"/>
<path d="M441.71 374.60L454.03 384.20"/>
<path d="M419.86 430.00L478.92 384.00"/>
<path d="M411.65 430.00L470.71 384.00"/>
<path d="M403.43 430.00L462.50 384.00"/>
<path d="M395.22 430.00L454.28 384.00"/>
<path d="M421.17 428.98L433.49 438.57"/>
<path d="M425.28 425.78L437.60 435.37"/>
<path d="M429.39 422.58L441.71 432.17"/>
<path d="M433.49 419.38L445.81 428.98"/>
<path d="M437.60 416.18L449.92 425.78"/>
<path d="M441.71 412.98L454.03 422.58"/>
<path d="M445.81 409.79L458.13 419.38"/>
<path d="M449.92 406.59L462.24 416.18"/>
<path d="M454.03 403.39L466.35 412.98"/>
<path d="M458.13 400.19L470.45 409.79"/>
<path d="M462.24 396.99L474.56 406.59"/>
<path d="M466.35 393.79L478.67 403.39"/>
<path d="M470.45 390.60L482.77 400.19"/>
<path d="M474.56 387.40L486.88 396.99"/>
<path d="M478.67 384.20L490.99 393.79"/>
<path d="M482.77 381.00L495.09 390.60"/>
<path d="M486.88 377.80L499.20 387.40"/>
<path d="M490.99 374.60L503.31 384.20"/>
<path d="M469.14 430.00L528.20 384.00"/>
<path d="M460.93 430.00L519.99 384.00"/>
<path d="M452.71 430.00L511.78 384.00"/>
<path d="M444.50 430.00L503.56 384.00"/>
<path d="M470.45 428.98L482.77 438.57"/>
<path d="M474.56 425.78L486.88 435.37"/>
<path d="M478.67 422.58L490.99 432.17"/>
<path d="M482.77 419.38L495.09 428.98"/>
<path d="M486.88 416.18L499.20 425.78"/>
<path d="M490.99 412.98L503.31 422.58"/>
<path d="M495.09 409.79L507.41 419.38"/>
<path d="M499.20 406.59L511.52 416.18"/>
<path d="M503.31 403.39L515.63 412.98"/>
<path d="M507.41 400.19L519.73 409.79"/>
<path d="M511.52 396.99L523.84 406.59"/>
<path d="M515.63 393.79L527.95 403.39"/>
<path d="M519.73 390.60L532.05 400.19"/>
<path d="M523.84 387.40L536.16 396.99"/>
<path d="M527.95 384.20L540.27 393.79"/>
<path d="M532.05 381.00L544.37 390.60"/>
<path d="M536.16 377.80L548.48 387.40"/>
<path d="M540.27 374.60L552.59 384.20"/>
<path d="M518.42 430.00L577.48 384.00"/>
<path d="M510.21 430.00L569.27 384.00"/>
<path d="M501.99 430.00L561.06 384.00"/>
<path d="M493.78 430.00L552.84 384.00"/>
<path d="M519.73 428.98L532.05 438.57"/>
<path d="M523.84 425.78L536.16 435.37"/>
<path d="M527.95 422.58L540.27 432.17"/>
<path d="M532.05 419.38L544.37 428.98"/>
<path d="M536.16 416.18L548.48 425.78"/>
<path d="M540.27 412.98L552.59 422.58"/>
<path d="M544.37 409.79L556.69 419.38"/>
<path d="M548.48 406.59L560.80 416.18"/>
<path d="M552.59 403.39L564.91 412.98"/>
<path d="M556.69 400.19L569.01 409.79"/>
<path d="M560.80 396.99L573.12 406.59"/>
<path d="M564.91 393.79L577.23 403.39"/>
<path d="M569.01 390.60L581.33 400.19"/>
<path d="M573.12 387.40L585.44 396.99"/>
<path d="M577.23 384.20L589.55 393.79"/>
<path d="M581.33 381.00L593.65 390.60"/>
<path d="M585.44 377.80L597.76 387.40"/>
<path d="M589.55 374.60L601.87 384.20"/>
<path d="M567.70 430.00L626.76 384.00"/>
<path d="M559.49 430.00L618.55 384.00"/>
<path d="M551.27 430.00L610.34 384.00"/>
<path d="M543.06 430.00L602.12 384.00"/>
<path d="M569.01 428.98L581.33 438.57"/>
<path d="M573.12 425.78L585.44 435.37"/>
<path d="M577.23 422.58L589.55 432.17"/>
<path d="M581.33 419.38L593.65 428.98"/>
<path d="M585.44 416.18L597.76 425.78"/>
<path d="M589.55 412.98L601.87 422.58"/>
<path d="M593.65 409.79L605.97 419.38"/>
<path d="M597.76 406.59L610.08 416.18"/>
<path d="M601.87 403.39L614.19 412.98"/>
<path d="M605.97 400.19L618.29 409.79"/>
<path d="M610.08 396.99L622.40 406.59"/>
<path d="M614.19 393.79L626.51 403.39"/>
<path d="M618.29 390.60L630.61 400.19"/>
<path d="M622.40 387.40L634.72 396.99"/>
<path d="M626.51 384.20L638.83 393.79"/>
<path d="M630.61 381.00L642.93 390.60"/>
<path d="M634.72 377.80L647.04 387.40"/>
<path d="M638.83 374.60L651.15 384.20"/>
<path d="M616.98 430.00L676.04 384.00"/>
<path d="M608.77 430.00L667.83 384.00"/>
<path d="M600.55 430.00L659.62 384.00"/>
<path d="M592.34 430.00L651.40 384.00"/>
<path d="M618.29 428.98L630.61 438.57"/>
<path d="M622.40 425.78L634.72 435.37"/>
<path d="M626.51 422.58L638.83 432.17"/>
<path d="M630.61 419.38L642.93 428.98"/>
<path d="M634.72 416.18L647.04 425.78"/>
<path d="M638.83 412.98L651.15 422.58"/>
<path d="M642.93 409.79L655.25 419.38"/>
<path d="M647.04 406.59L659.36 416.18"/>
<path d="M651.15 403.39L663.47 412.98"/>
<path d="M655.25 400.19L667.57 409.79"/>
<path d="M659.36 396.99L671.68 406.59"/>
<path d="M663.47 393.79L675.79 403.39"/>
<path d="M667.57 390.60L679.89 400.19"/>
<path d="M671.68 387.40L684.00 396.99"/>
<path d="M675.79 384.20L688.11 393.79"/>
<path d="M679.89 381.00L692.21 390.60"/>
<path d="M684.00 377.80L696.32 387.40"/>
<path d="M688.11 374.60L700.43 384.20"/>
<path d="M666.26 430.00L725.32 384.00"/>
<path d="M658.05 430.00L717.11 384.00"/>
<path d="M649.83 430.00L708.90 384.00"/>
<path d="M641.62 430.00L700.68 384.00"/>
<path d="M667.57 428.98L679.89 438.57"/>
<path d="M671.68 425.78L684.00 435.37"/>
<path d="M675.79 422.58L688.11 432.17"/>
<path d="M679.89 419.38L692.21 428.98"/>
<path d="M684.00 416.18L696.32 425.78"/>
<path d="M688.11 412.98L700.43 422.58"/>
<path d="M692.21 409.79L704.53 419.38"/>
<path d="M696.32 406.59L708.64 416.18"/>
<path d="M700.43 403.39L712.75 412.98"/>
<path d="M704.53 400.19L716.85 409.79"/>
<path d="M708.64 396.99L720.96 406.59"/>
<path d="M712.75 393.79L725.07 403.39"/>
<path d="M716.85 390.60L729.17 400.19"/>
<path d="M720.96 387.40L733.28 396.99"/>
<path d="M725.07 384.20L737.39 393.79"/>
<path d="M729.17 381.00L741.49 390.60"/>
<path d="M733.28 377.80L745.60 387.40"/>
<path d="M737.39 374.60L749.71 384.20"/>
<path d="M715.54 430.00L774.60 384.00"/>
<path d="M707.33 430.00L766.39 384.00"/>
<path d="M699.11 430.00L758.18 384.00"/>
<path d="M690.90 430.00L749.96 384.00"/>
<path d="M716.85 428.98L729.17 438.57"/>
<path d="M720.96 425.78L733.28 435.37"/>
<path d="M725.07 422.58L737.39 432.17"/>
<path d="M729.17 419.38L741.49 428.98"/>
<path d="M733.28 416.18L745.60 425.78"/>
<path d="M737.39 412.98L749.71 422.58"/>
<path d="M741.49 409.79L753.81 419.38"/>
<path d="M745.60 406.59L757.92 416.18"/>
<path d="M749.71 403.39L762.03 412.98"/>
<path d="M753.81 400.19L766.13 409.79"/>
<path d="M757.92 396.99L770.24 406.59"/>
<path d="M762.03 393.79L774.35 403.39"/>
<path d="M766.13 390.60L778.45 400.19"/>
<path d="M764.82 430.00L823.88 384.00"/>
<path d="M756.61 430.00L815.67 384.00"/>
<path d="M748.39 430.00L807.46 384.00"/>
<path d="M740.18 430.00L799.24 384.00"/>
<path d="M766.13 428.98L778.45 438.57"/>
</g>
<g clip-path="url(#cbr)" stroke="#d2d2d2" stroke-width="1.2">
<path d="M36.70 392L42.70 386.8"/>
<path d="M48.10 392L54.10 386.8"/>
<path d="M59.50 392L65.50 386.8"/>
<path d="M70.90 392L76.90 386.8"/>
<path d="M82.30 392L88.30 386.8"/>
<path d="M93.70 392L99.70 386.8"/>
<path d="M105.10 392L111.10 386.8"/>
<path d="M116.50 392L122.50 386.8"/>
<path d="M127.90 392L133.90 386.8"/>
<path d="M139.30 392L145.30 386.8"/>
<path d="M150.70 392L156.70 386.8"/>
<path d="M162.10 392L168.10 386.8"/>
<path d="M173.50 392L179.50 386.8"/>
<path d="M184.90 392L190.90 386.8"/>
<path d="M196.30 392L202.30 386.8"/>
<path d="M207.70 392L213.70 386.8"/>
<path d="M219.10 392L225.10 386.8"/>
<path d="M230.50 392L236.50 386.8"/>
<path d="M241.90 392L247.90 386.8"/>
<path d="M253.30 392L259.30 386.8"/>
<path d="M264.70 392L270.70 386.8"/>
<path d="M276.10 392L282.10 386.8"/>
<path d="M287.50 392L293.50 386.8"/>
<path d="M298.90 392L304.90 386.8"/>
<path d="M310.30 392L316.30 386.8"/>
<path d="M321.70 392L327.70 386.8"/>
<path d="M333.10 392L339.10 386.8"/>
<path d="M344.50 392L350.50 386.8"/>
<path d="M355.90 392L361.90 386.8"/>
<path d="M367.30 392L373.30 386.8"/>
<path d="M378.70 392L384.70 386.8"/>
<path d="M390.10 392L396.10 386.8"/>
<path d="M401.50 392L407.50 386.8"/>
<path d="M412.90 392L418.90 386.8"/>
<path d="M424.30 392L430.30 386.8"/>
<path d="M435.70 392L441.70 386.8"/>
<path d="M447.10 392L453.10 386.8"/>
<path d="M458.50 392L464.50 386.8"/>
<path d="M469.90 392L475.90 386.8"/>
<path d="M481.30 392L487.30 386.8"/>
<path d="M492.70 392L498.70 386.8"/>
<path d="M504.10 392L510.10 386.8"/>
<path d="M515.50 392L521.50 386.8"/>
<path d="M526.90 392L532.90 386.8"/>
<path d="M538.30 392L544.30 386.8"/>
<path d="M549.70 392L555.70 386.8"/>
<path d="M561.10 392L567.10 386.8"/>
<path d="M572.50 392L578.50 386.8"/>
<path d="M583.90 392L589.90 386.8"/>
<path d="M595.30 392L601.30 386.8"/>
<path d="M606.70 392L612.70 386.8"/>
<path d="M618.10 392L624.10 386.8"/>
<path d="M629.50 392L635.50 386.8"/>
<path d="M640.90 392L646.90 386.8"/>
<path d="M652.30 392L658.30 386.8"/>
<path d="M663.70 392L669.70 386.8"/>
<path d="M675.10 392L681.10 386.8"/>
<path d="M686.50 392L692.50 386.8"/>
<path d="M697.90 392L703.90 386.8"/>
<path d="M709.30 392L715.30 386.8"/>
</g>
<rect x="73.50" y="391.30" width="637.30" height="3.90" fill="#cccccc" stroke="none" stroke-width="1" />
<line x1="73.5" y1="392.9" x2="710.8" y2="392.9" stroke="#7a7a7a" stroke-width="1.7" stroke-dasharray="1.5 0.9 0.8 1.1 2.1 0.8"/>
<line x1="73.50" y1="391.30" x2="710.80" y2="391.30" stroke="#484848" stroke-width="1.0" />
<line x1="73.50" y1="395.20" x2="708.00" y2="395.20" stroke="#6a6a6a" stroke-width="1.0" />
<rect x="12.30" y="387.30" width="751.30" height="38.80" fill="none" stroke="#505050" stroke-width="1.0" />
<path d="M64.1 387.3H73.8" stroke="#111" stroke-width="1.3" fill="none"/>
<path d="M64.8 387.3V393.3L57.1 394.4V399.2H81.2V394.6L73.5 393.4V391.4" stroke="#111" stroke-width="1.2" fill="#fff" stroke-linejoin="round"/>
<rect x="65.50" y="388.00" width="7.40" height="6.00" fill="#fff" stroke="none" stroke-width="1" />
<line x1="65.50" y1="395.30" x2="73.40" y2="395.30" stroke="#bbb" stroke-width="0.7" />
<path d="M710.8 391.2V393.2L705.1 395.5V399.2H719.1V396.4L713.4 393.8V387.3" stroke="#111" stroke-width="1.2" fill="#fff" stroke-linejoin="round"/>
<path d="M710.2 387.3H713.9" stroke="#111" stroke-width="1.3" fill="none"/>
<line x1="120.40" y1="339.10" x2="120.40" y2="404.40" stroke="#1a1a1a" stroke-width="1.2" />
<line x1="123.00" y1="339.10" x2="123.00" y2="404.40" stroke="#1a1a1a" stroke-width="1.2" />
<g clip-path="url(#cwall)">
<rect x="305.40" y="40.00" width="165.20" height="343.20" fill="#fff" stroke="none" stroke-width="1" />
<line x1="305.40" y1="52.60" x2="470.60" y2="52.60" stroke="#727272" stroke-width="1.2" />
<line x1="305.40" y1="56.99" x2="470.60" y2="56.99" stroke="#727272" stroke-width="1.2" />
<line x1="305.40" y1="61.38" x2="470.60" y2="61.38" stroke="#727272" stroke-width="1.2" />
<line x1="305.40" y1="65.77" x2="470.60" y2="65.77" stroke="#727272" stroke-width="1.2" />
<line x1="305.40" y1="70.16" x2="470.60" y2="70.16" stroke="#727272" stroke-width="1.2" />
<line x1="305.40" y1="74.55" x2="470.60" y2="74.55" stroke="#727272" stroke-width="1.2" />
<line x1="305.40" y1="78.94" x2="470.60" y2="78.94" stroke="#727272" stroke-width="1.2" />
<line x1="305.40" y1="83.33" x2="470.60" y2="83.33" stroke="#727272" stroke-width="1.2" />
<line x1="305.40" y1="87.72" x2="470.60" y2="87.72" stroke="#727272" stroke-width="1.2" />
<line x1="305.40" y1="92.11" x2="470.60" y2="92.11" stroke="#727272" stroke-width="1.2" />
<line x1="305.40" y1="96.50" x2="470.60" y2="96.50" stroke="#727272" stroke-width="1.2" />
<line x1="305.40" y1="100.89" x2="470.60" y2="100.89" stroke="#727272" stroke-width="1.2" />
<line x1="305.40" y1="105.28" x2="470.60" y2="105.28" stroke="#727272" stroke-width="1.2" />
<line x1="305.40" y1="109.67" x2="470.60" y2="109.67" stroke="#727272" stroke-width="1.2" />
<line x1="305.40" y1="114.06" x2="470.60" y2="114.06" stroke="#727272" stroke-width="1.2" />
<line x1="305.40" y1="118.45" x2="470.60" y2="118.45" stroke="#727272" stroke-width="1.2" />
<line x1="305.40" y1="122.84" x2="470.60" y2="122.84" stroke="#727272" stroke-width="1.2" />
<line x1="305.40" y1="127.23" x2="470.60" y2="127.23" stroke="#727272" stroke-width="1.2" />
<line x1="305.40" y1="131.62" x2="470.60" y2="131.62" stroke="#727272" stroke-width="1.2" />
<line x1="305.40" y1="136.01" x2="470.60" y2="136.01" stroke="#727272" stroke-width="1.2" />
<line x1="305.40" y1="140.40" x2="470.60" y2="140.40" stroke="#727272" stroke-width="1.2" />
<line x1="305.40" y1="144.79" x2="470.60" y2="144.79" stroke="#727272" stroke-width="1.2" />
<line x1="305.40" y1="149.18" x2="470.60" y2="149.18" stroke="#727272" stroke-width="1.2" />
<line x1="305.40" y1="153.57" x2="470.60" y2="153.57" stroke="#727272" stroke-width="1.2" />
<line x1="305.40" y1="157.96" x2="470.60" y2="157.96" stroke="#727272" stroke-width="1.2" />
<line x1="305.40" y1="162.35" x2="470.60" y2="162.35" stroke="#727272" stroke-width="1.2" />
<line x1="305.40" y1="166.74" x2="470.60" y2="166.74" stroke="#727272" stroke-width="1.2" />
<line x1="305.40" y1="171.13" x2="470.60" y2="171.13" stroke="#727272" stroke-width="1.2" />
<line x1="305.40" y1="175.52" x2="470.60" y2="175.52" stroke="#727272" stroke-width="1.2" />
<line x1="305.40" y1="179.91" x2="470.60" y2="179.91" stroke="#727272" stroke-width="1.2" />
<line x1="305.40" y1="184.30" x2="470.60" y2="184.30" stroke="#727272" stroke-width="1.2" />
<line x1="305.40" y1="188.69" x2="470.60" y2="188.69" stroke="#727272" stroke-width="1.2" />
<line x1="305.40" y1="193.08" x2="470.60" y2="193.08" stroke="#727272" stroke-width="1.2" />
<line x1="305.40" y1="197.47" x2="470.60" y2="197.47" stroke="#727272" stroke-width="1.2" />
<line x1="305.40" y1="201.86" x2="470.60" y2="201.86" stroke="#727272" stroke-width="1.2" />
<line x1="305.40" y1="206.25" x2="470.60" y2="206.25" stroke="#727272" stroke-width="1.2" />
<line x1="305.40" y1="210.64" x2="470.60" y2="210.64" stroke="#727272" stroke-width="1.2" />
<line x1="305.40" y1="215.03" x2="470.60" y2="215.03" stroke="#727272" stroke-width="1.2" />
<line x1="305.40" y1="219.42" x2="470.60" y2="219.42" stroke="#727272" stroke-width="1.2" />
<line x1="305.40" y1="223.81" x2="470.60" y2="223.81" stroke="#727272" stroke-width="1.2" />
<line x1="305.40" y1="228.20" x2="470.60" y2="228.20" stroke="#727272" stroke-width="1.2" />
<line x1="305.40" y1="232.59" x2="470.60" y2="232.59" stroke="#727272" stroke-width="1.2" />
<line x1="305.40" y1="236.98" x2="470.60" y2="236.98" stroke="#727272" stroke-width="1.2" />
<line x1="305.40" y1="241.37" x2="470.60" y2="241.37" stroke="#727272" stroke-width="1.2" />
<line x1="305.40" y1="245.76" x2="470.60" y2="245.76" stroke="#727272" stroke-width="1.2" />
<line x1="305.40" y1="250.15" x2="470.60" y2="250.15" stroke="#727272" stroke-width="1.2" />
<line x1="305.40" y1="254.54" x2="470.60" y2="254.54" stroke="#727272" stroke-width="1.2" />
<line x1="305.40" y1="258.93" x2="470.60" y2="258.93" stroke="#727272" stroke-width="1.2" />
<line x1="305.40" y1="263.32" x2="470.60" y2="263.32" stroke="#727272" stroke-width="1.2" />
<line x1="305.40" y1="267.71" x2="470.60" y2="267.71" stroke="#727272" stroke-width="1.2" />
<line x1="305.40" y1="272.10" x2="470.60" y2="272.10" stroke="#727272" stroke-width="1.2" />
<line x1="305.40" y1="276.49" x2="470.60" y2="276.49" stroke="#727272" stroke-width="1.2" />
<line x1="305.40" y1="280.88" x2="470.60" y2="280.88" stroke="#727272" stroke-width="1.2" />
<line x1="305.40" y1="285.27" x2="470.60" y2="285.27" stroke="#727272" stroke-width="1.2" />
<line x1="305.40" y1="289.66" x2="470.60" y2="289.66" stroke="#727272" stroke-width="1.2" />
<line x1="305.40" y1="294.05" x2="470.60" y2="294.05" stroke="#727272" stroke-width="1.2" />
<line x1="305.40" y1="298.44" x2="470.60" y2="298.44" stroke="#727272" stroke-width="1.2" />
<line x1="305.40" y1="302.83" x2="470.60" y2="302.83" stroke="#727272" stroke-width="1.2" />
<line x1="305.40" y1="307.22" x2="470.60" y2="307.22" stroke="#727272" stroke-width="1.2" />
<line x1="305.40" y1="311.61" x2="470.60" y2="311.61" stroke="#727272" stroke-width="1.2" />
<line x1="305.40" y1="316.00" x2="470.60" y2="316.00" stroke="#727272" stroke-width="1.2" />
<line x1="305.40" y1="320.39" x2="470.60" y2="320.39" stroke="#727272" stroke-width="1.2" />
<line x1="305.40" y1="324.78" x2="470.60" y2="324.78" stroke="#727272" stroke-width="1.2" />
<line x1="305.40" y1="329.17" x2="470.60" y2="329.17" stroke="#727272" stroke-width="1.2" />
<line x1="305.40" y1="333.56" x2="470.60" y2="333.56" stroke="#727272" stroke-width="1.2" />
<line x1="305.40" y1="337.95" x2="470.60" y2="337.95" stroke="#727272" stroke-width="1.2" />
<line x1="305.40" y1="342.34" x2="470.60" y2="342.34" stroke="#727272" stroke-width="1.2" />
<line x1="305.40" y1="346.73" x2="470.60" y2="346.73" stroke="#727272" stroke-width="1.2" />
<line x1="305.40" y1="351.12" x2="470.60" y2="351.12" stroke="#727272" stroke-width="1.2" />
<line x1="305.40" y1="355.51" x2="470.60" y2="355.51" stroke="#727272" stroke-width="1.2" />
<line x1="305.40" y1="359.90" x2="470.60" y2="359.90" stroke="#727272" stroke-width="1.2" />
<line x1="305.40" y1="364.29" x2="470.60" y2="364.29" stroke="#727272" stroke-width="1.2" />
<line x1="305.40" y1="368.68" x2="470.60" y2="368.68" stroke="#727272" stroke-width="1.2" />
<line x1="305.40" y1="373.07" x2="470.60" y2="373.07" stroke="#727272" stroke-width="1.2" />
<line x1="305.40" y1="377.46" x2="470.60" y2="377.46" stroke="#727272" stroke-width="1.2" />
</g>
<rect x="305.40" y="195.36" width="2.80" height="187.84" fill="#fff" stroke="none" stroke-width="1" />
<line x1="305.40" y1="197.47" x2="308.20" y2="197.47" stroke="#8a8a8a" stroke-width="1.1" />
<line x1="305.40" y1="201.86" x2="308.20" y2="201.86" stroke="#8a8a8a" stroke-width="1.1" />
<line x1="305.40" y1="206.25" x2="308.20" y2="206.25" stroke="#8a8a8a" stroke-width="1.1" />
<line x1="305.40" y1="210.64" x2="308.20" y2="210.64" stroke="#8a8a8a" stroke-width="1.1" />
<line x1="305.40" y1="215.03" x2="308.20" y2="215.03" stroke="#8a8a8a" stroke-width="1.1" />
<line x1="305.40" y1="219.42" x2="308.20" y2="219.42" stroke="#8a8a8a" stroke-width="1.1" />
<line x1="305.40" y1="223.81" x2="308.20" y2="223.81" stroke="#8a8a8a" stroke-width="1.1" />
<line x1="305.40" y1="228.20" x2="308.20" y2="228.20" stroke="#8a8a8a" stroke-width="1.1" />
<line x1="305.40" y1="232.59" x2="308.20" y2="232.59" stroke="#8a8a8a" stroke-width="1.1" />
<line x1="305.40" y1="236.98" x2="308.20" y2="236.98" stroke="#8a8a8a" stroke-width="1.1" />
<line x1="305.40" y1="241.37" x2="308.20" y2="241.37" stroke="#8a8a8a" stroke-width="1.1" />
<line x1="305.40" y1="245.76" x2="308.20" y2="245.76" stroke="#8a8a8a" stroke-width="1.1" />
<line x1="305.40" y1="250.15" x2="308.20" y2="250.15" stroke="#8a8a8a" stroke-width="1.1" />
<line x1="305.40" y1="254.54" x2="308.20" y2="254.54" stroke="#8a8a8a" stroke-width="1.1" />
<line x1="305.40" y1="258.93" x2="308.20" y2="258.93" stroke="#8a8a8a" stroke-width="1.1" />
<line x1="305.40" y1="263.32" x2="308.20" y2="263.32" stroke="#8a8a8a" stroke-width="1.1" />
<line x1="305.40" y1="267.71" x2="308.20" y2="267.71" stroke="#8a8a8a" stroke-width="1.1" />
<line x1="305.40" y1="272.10" x2="308.20" y2="272.10" stroke="#8a8a8a" stroke-width="1.1" />
<line x1="305.40" y1="276.49" x2="308.20" y2="276.49" stroke="#8a8a8a" stroke-width="1.1" />
<line x1="305.40" y1="280.88" x2="308.20" y2="280.88" stroke="#8a8a8a" stroke-width="1.1" />
<line x1="305.40" y1="285.27" x2="308.20" y2="285.27" stroke="#8a8a8a" stroke-width="1.1" />
<line x1="305.40" y1="289.66" x2="308.20" y2="289.66" stroke="#8a8a8a" stroke-width="1.1" />
<line x1="305.40" y1="294.05" x2="308.20" y2="294.05" stroke="#8a8a8a" stroke-width="1.1" />
<line x1="305.40" y1="298.44" x2="308.20" y2="298.44" stroke="#8a8a8a" stroke-width="1.1" />
<line x1="305.40" y1="302.83" x2="308.20" y2="302.83" stroke="#8a8a8a" stroke-width="1.1" />
<line x1="305.40" y1="307.22" x2="308.20" y2="307.22" stroke="#8a8a8a" stroke-width="1.1" />
<line x1="305.40" y1="311.61" x2="308.20" y2="311.61" stroke="#8a8a8a" stroke-width="1.1" />
<line x1="305.40" y1="316.00" x2="308.20" y2="316.00" stroke="#8a8a8a" stroke-width="1.1" />
<line x1="305.40" y1="320.39" x2="308.20" y2="320.39" stroke="#8a8a8a" stroke-width="1.1" />
<line x1="305.40" y1="324.78" x2="308.20" y2="324.78" stroke="#8a8a8a" stroke-width="1.1" />
<line x1="305.40" y1="329.17" x2="308.20" y2="329.17" stroke="#8a8a8a" stroke-width="1.1" />
<line x1="305.40" y1="333.56" x2="308.20" y2="333.56" stroke="#8a8a8a" stroke-width="1.1" />
<line x1="305.40" y1="337.95" x2="308.20" y2="337.95" stroke="#8a8a8a" stroke-width="1.1" />
<line x1="305.40" y1="342.34" x2="308.20" y2="342.34" stroke="#8a8a8a" stroke-width="1.1" />
<line x1="305.40" y1="346.73" x2="308.20" y2="346.73" stroke="#8a8a8a" stroke-width="1.1" />
<line x1="305.40" y1="351.12" x2="308.20" y2="351.12" stroke="#8a8a8a" stroke-width="1.1" />
<line x1="305.40" y1="355.51" x2="308.20" y2="355.51" stroke="#8a8a8a" stroke-width="1.1" />
<line x1="305.40" y1="359.90" x2="308.20" y2="359.90" stroke="#8a8a8a" stroke-width="1.1" />
<line x1="305.40" y1="364.29" x2="308.20" y2="364.29" stroke="#8a8a8a" stroke-width="1.1" />
<line x1="305.40" y1="368.68" x2="308.20" y2="368.68" stroke="#8a8a8a" stroke-width="1.1" />
<line x1="305.40" y1="373.07" x2="308.20" y2="373.07" stroke="#8a8a8a" stroke-width="1.1" />
<line x1="305.40" y1="377.46" x2="308.20" y2="377.46" stroke="#8a8a8a" stroke-width="1.1" />
<line x1="308.20" y1="194.11" x2="308.20" y2="383.20" stroke="#6a6a6a" stroke-width="0.9" />
<rect x="467.46" y="50.01" width="3.14" height="333.19" fill="#fff" stroke="none" stroke-width="1" />
<line x1="467.46" y1="52.60" x2="470.60" y2="52.60" stroke="#8a8a8a" stroke-width="1.1" />
<line x1="467.46" y1="56.99" x2="470.60" y2="56.99" stroke="#8a8a8a" stroke-width="1.1" />
<line x1="467.46" y1="61.38" x2="470.60" y2="61.38" stroke="#8a8a8a" stroke-width="1.1" />
<line x1="467.46" y1="65.77" x2="470.60" y2="65.77" stroke="#8a8a8a" stroke-width="1.1" />
<line x1="467.46" y1="70.16" x2="470.60" y2="70.16" stroke="#8a8a8a" stroke-width="1.1" />
<line x1="467.46" y1="74.55" x2="470.60" y2="74.55" stroke="#8a8a8a" stroke-width="1.1" />
<line x1="467.46" y1="78.94" x2="470.60" y2="78.94" stroke="#8a8a8a" stroke-width="1.1" />
<line x1="467.46" y1="83.33" x2="470.60" y2="83.33" stroke="#8a8a8a" stroke-width="1.1" />
<line x1="467.46" y1="87.72" x2="470.60" y2="87.72" stroke="#8a8a8a" stroke-width="1.1" />
<line x1="467.46" y1="92.11" x2="470.60" y2="92.11" stroke="#8a8a8a" stroke-width="1.1" />
<line x1="467.46" y1="96.50" x2="470.60" y2="96.50" stroke="#8a8a8a" stroke-width="1.1" />
<line x1="467.46" y1="100.89" x2="470.60" y2="100.89" stroke="#8a8a8a" stroke-width="1.1" />
<line x1="467.46" y1="105.28" x2="470.60" y2="105.28" stroke="#8a8a8a" stroke-width="1.1" />
<line x1="467.46" y1="109.67" x2="470.60" y2="109.67" stroke="#8a8a8a" stroke-width="1.1" />
<line x1="467.46" y1="114.06" x2="470.60" y2="114.06" stroke="#8a8a8a" stroke-width="1.1" />
<line x1="467.46" y1="118.45" x2="470.60" y2="118.45" stroke="#8a8a8a" stroke-width="1.1" />
<line x1="467.46" y1="122.84" x2="470.60" y2="122.84" stroke="#8a8a8a" stroke-width="1.1" />
<line x1="467.46" y1="127.23" x2="470.60" y2="127.23" stroke="#8a8a8a" stroke-width="1.1" />
<line x1="467.46" y1="131.62" x2="470.60" y2="131.62" stroke="#8a8a8a" stroke-width="1.1" />
<line x1="467.46" y1="136.01" x2="470.60" y2="136.01" stroke="#8a8a8a" stroke-width="1.1" />
<line x1="467.46" y1="140.40" x2="470.60" y2="140.40" stroke="#8a8a8a" stroke-width="1.1" />
<line x1="467.46" y1="144.79" x2="470.60" y2="144.79" stroke="#8a8a8a" stroke-width="1.1" />
<line x1="467.46" y1="149.18" x2="470.60" y2="149.18" stroke="#8a8a8a" stroke-width="1.1" />
<line x1="467.46" y1="153.57" x2="470.60" y2="153.57" stroke="#8a8a8a" stroke-width="1.1" />
<line x1="467.46" y1="157.96" x2="470.60" y2="157.96" stroke="#8a8a8a" stroke-width="1.1" />
<line x1="467.46" y1="162.35" x2="470.60" y2="162.35" stroke="#8a8a8a" stroke-width="1.1" />
<line x1="467.46" y1="166.74" x2="470.60" y2="166.74" stroke="#8a8a8a" stroke-width="1.1" />
<line x1="467.46" y1="171.13" x2="470.60" y2="171.13" stroke="#8a8a8a" stroke-width="1.1" />
<line x1="467.46" y1="175.52" x2="470.60" y2="175.52" stroke="#8a8a8a" stroke-width="1.1" />
<line x1="467.46" y1="179.91" x2="470.60" y2="179.91" stroke="#8a8a8a" stroke-width="1.1" />
<line x1="467.46" y1="184.30" x2="470.60" y2="184.30" stroke="#8a8a8a" stroke-width="1.1" />
<line x1="467.46" y1="188.69" x2="470.60" y2="188.69" stroke="#8a8a8a" stroke-width="1.1" />
<line x1="467.46" y1="193.08" x2="470.60" y2="193.08" stroke="#8a8a8a" stroke-width="1.1" />
<line x1="467.46" y1="197.47" x2="470.60" y2="197.47" stroke="#8a8a8a" stroke-width="1.1" />
<line x1="467.46" y1="201.86" x2="470.60" y2="201.86" stroke="#8a8a8a" stroke-width="1.1" />
<line x1="467.46" y1="206.25" x2="470.60" y2="206.25" stroke="#8a8a8a" stroke-width="1.1" />
<line x1="467.46" y1="210.64" x2="470.60" y2="210.64" stroke="#8a8a8a" stroke-width="1.1" />
<line x1="467.46" y1="215.03" x2="470.60" y2="215.03" stroke="#8a8a8a" stroke-width="1.1" />
<line x1="467.46" y1="219.42" x2="470.60" y2="219.42" stroke="#8a8a8a" stroke-width="1.1" />
<line x1="467.46" y1="223.81" x2="470.60" y2="223.81" stroke="#8a8a8a" stroke-width="1.1" />
<line x1="467.46" y1="228.20" x2="470.60" y2="228.20" stroke="#8a8a8a" stroke-width="1.1" />
<line x1="467.46" y1="232.59" x2="470.60" y2="232.59" stroke="#8a8a8a" stroke-width="1.1" />
<line x1="467.46" y1="236.98" x2="470.60" y2="236.98" stroke="#8a8a8a" stroke-width="1.1" />
<line x1="467.46" y1="241.37" x2="470.60" y2="241.37" stroke="#8a8a8a" stroke-width="1.1" />
<line x1="467.46" y1="245.76" x2="470.60" y2="245.76" stroke="#8a8a8a" stroke-width="1.1" />
<line x1="467.46" y1="250.15" x2="470.60" y2="250.15" stroke="#8a8a8a" stroke-width="1.1" />
<line x1="467.46" y1="254.54" x2="470.60" y2="254.54" stroke="#8a8a8a" stroke-width="1.1" />
<line x1="467.46" y1="258.93" x2="470.60" y2="258.93" stroke="#8a8a8a" stroke-width="1.1" />
<line x1="467.46" y1="263.32" x2="470.60" y2="263.32" stroke="#8a8a8a" stroke-width="1.1" />
<line x1="467.46" y1="267.71" x2="470.60" y2="267.71" stroke="#8a8a8a" stroke-width="1.1" />
<line x1="467.46" y1="272.10" x2="470.60" y2="272.10" stroke="#8a8a8a" stroke-width="1.1" />
<line x1="467.46" y1="276.49" x2="470.60" y2="276.49" stroke="#8a8a8a" stroke-width="1.1" />
<line x1="467.46" y1="280.88" x2="470.60" y2="280.88" stroke="#8a8a8a" stroke-width="1.1" />
<line x1="467.46" y1="285.27" x2="470.60" y2="285.27" stroke="#8a8a8a" stroke-width="1.1" />
<line x1="467.46" y1="289.66" x2="470.60" y2="289.66" stroke="#8a8a8a" stroke-width="1.1" />
<line x1="467.46" y1="294.05" x2="470.60" y2="294.05" stroke="#8a8a8a" stroke-width="1.1" />
<line x1="467.46" y1="298.44" x2="470.60" y2="298.44" stroke="#8a8a8a" stroke-width="1.1" />
<line x1="467.46" y1="302.83" x2="470.60" y2="302.83" stroke="#8a8a8a" stroke-width="1.1" />
<line x1="467.46" y1="307.22" x2="470.60" y2="307.22" stroke="#8a8a8a" stroke-width="1.1" />
<line x1="467.46" y1="311.61" x2="470.60" y2="311.61" stroke="#8a8a8a" stroke-width="1.1" />
<line x1="467.46" y1="316.00" x2="470.60" y2="316.00" stroke="#8a8a8a" stroke-width="1.1" />
<line x1="467.46" y1="320.39" x2="470.60" y2="320.39" stroke="#8a8a8a" stroke-width="1.1" />
<line x1="467.46" y1="324.78" x2="470.60" y2="324.78" stroke="#8a8a8a" stroke-width="1.1" />
<line x1="467.46" y1="329.17" x2="470.60" y2="329.17" stroke="#8a8a8a" stroke-width="1.1" />
<line x1="467.46" y1="333.56" x2="470.60" y2="333.56" stroke="#8a8a8a" stroke-width="1.1" />
<line x1="467.46" y1="337.95" x2="470.60" y2="337.95" stroke="#8a8a8a" stroke-width="1.1" />
<line x1="467.46" y1="342.34" x2="470.60" y2="342.34" stroke="#8a8a8a" stroke-width="1.1" />
<line x1="467.46" y1="346.73" x2="470.60" y2="346.73" stroke="#8a8a8a" stroke-width="1.1" />
<line x1="467.46" y1="351.12" x2="470.60" y2="351.12" stroke="#8a8a8a" stroke-width="1.1" />
<line x1="467.46" y1="355.51" x2="470.60" y2="355.51" stroke="#8a8a8a" stroke-width="1.1" />
<line x1="467.46" y1="359.90" x2="470.60" y2="359.90" stroke="#8a8a8a" stroke-width="1.1" />
<line x1="467.46" y1="364.29" x2="470.60" y2="364.29" stroke="#8a8a8a" stroke-width="1.1" />
<line x1="467.46" y1="368.68" x2="470.60" y2="368.68" stroke="#8a8a8a" stroke-width="1.1" />
<line x1="467.46" y1="373.07" x2="470.60" y2="373.07" stroke="#8a8a8a" stroke-width="1.1" />
<line x1="467.46" y1="377.46" x2="470.60" y2="377.46" stroke="#8a8a8a" stroke-width="1.1" />
<line x1="467.46" y1="51.41" x2="467.46" y2="383.20" stroke="#6a6a6a" stroke-width="0.9" />
<rect x="308.50" y="200.19" width="3.25" height="22.65" fill="#fff" stroke="none" stroke-width="1" fill-opacity="0.6"/>
<path d="M308.20 224.79V200.19H312.05V220.88" fill="none" stroke="#848484" stroke-width="1.3"/>
<rect x="308.90" y="216.18" width="2.45" height="6.66" fill="#fff" stroke="none" stroke-width="1" />
<line x1="307.70" y1="216.18" x2="312.55" y2="216.18" stroke="#3a3a3a" stroke-width="1.2" />
<rect x="307.90" y="293.30" width="4.45" height="94.00" fill="#fff" stroke="none" stroke-width="1" />
<line x1="307.90" y1="293.30" x2="307.90" y2="387.30" stroke="#7c7c7c" stroke-width="1.1" />
<line x1="312.35" y1="293.30" x2="312.35" y2="387.30" stroke="#7c7c7c" stroke-width="1.1" />
<line x1="310.12" y1="372.90" x2="310.12" y2="387.30" stroke="#666" stroke-width="1.0" />
<rect x="330.73" y="180.27" width="3.25" height="23.02" fill="#fff" stroke="none" stroke-width="1" fill-opacity="0.6"/>
<path d="M330.43 205.24V180.27H334.28V201.33" fill="none" stroke="#848484" stroke-width="1.3"/>
<rect x="331.13" y="196.63" width="2.45" height="6.66" fill="#fff" stroke="none" stroke-width="1" />
<line x1="329.93" y1="196.63" x2="334.78" y2="196.63" stroke="#3a3a3a" stroke-width="1.2" />
<rect x="330.13" y="284.90" width="4.45" height="102.40" fill="#fff" stroke="none" stroke-width="1" />
<line x1="330.13" y1="284.90" x2="330.13" y2="387.30" stroke="#7c7c7c" stroke-width="1.1" />
<line x1="334.58" y1="284.90" x2="334.58" y2="387.30" stroke="#7c7c7c" stroke-width="1.1" />
<line x1="332.36" y1="372.90" x2="332.36" y2="387.30" stroke="#666" stroke-width="1.0" />
<rect x="352.96" y="160.35" width="3.25" height="23.39" fill="#fff" stroke="none" stroke-width="1" fill-opacity="0.6"/>
<path d="M352.66 185.69V160.35H356.51V181.78" fill="none" stroke="#848484" stroke-width="1.3"/>
<rect x="353.36" y="177.08" width="2.45" height="6.66" fill="#fff" stroke="none" stroke-width="1" />
<line x1="352.16" y1="177.08" x2="357.01" y2="177.08" stroke="#3a3a3a" stroke-width="1.2" />
<rect x="352.36" y="276.50" width="4.45" height="110.80" fill="#fff" stroke="none" stroke-width="1" />
<line x1="352.36" y1="276.50" x2="352.36" y2="387.30" stroke="#7c7c7c" stroke-width="1.1" />
<line x1="356.81" y1="276.50" x2="356.81" y2="387.30" stroke="#7c7c7c" stroke-width="1.1" />
<line x1="354.58" y1="372.90" x2="354.58" y2="387.30" stroke="#666" stroke-width="1.0" />
<rect x="375.19" y="140.43" width="3.25" height="23.75" fill="#fff" stroke="none" stroke-width="1" fill-opacity="0.6"/>
<path d="M374.89 166.14V140.43H378.74V162.23" fill="none" stroke="#848484" stroke-width="1.3"/>
<rect x="375.59" y="157.53" width="2.45" height="6.66" fill="#fff" stroke="none" stroke-width="1" />
<line x1="374.39" y1="157.53" x2="379.24" y2="157.53" stroke="#3a3a3a" stroke-width="1.2" />
<rect x="374.59" y="268.10" width="4.45" height="119.20" fill="#fff" stroke="none" stroke-width="1" />
<line x1="374.59" y1="268.10" x2="374.59" y2="387.30" stroke="#7c7c7c" stroke-width="1.1" />
<line x1="379.04" y1="268.10" x2="379.04" y2="387.30" stroke="#7c7c7c" stroke-width="1.1" />
<line x1="376.81" y1="372.90" x2="376.81" y2="387.30" stroke="#666" stroke-width="1.0" />
<rect x="397.42" y="120.51" width="3.25" height="24.12" fill="#fff" stroke="none" stroke-width="1" fill-opacity="0.6"/>
<path d="M397.12 146.59V120.51H400.97V142.68" fill="none" stroke="#848484" stroke-width="1.3"/>
<rect x="397.82" y="137.98" width="2.45" height="6.66" fill="#fff" stroke="none" stroke-width="1" />
<line x1="396.62" y1="137.98" x2="401.47" y2="137.98" stroke="#3a3a3a" stroke-width="1.2" />
<rect x="396.82" y="259.70" width="4.45" height="127.60" fill="#fff" stroke="none" stroke-width="1" />
<line x1="396.82" y1="259.70" x2="396.82" y2="387.30" stroke="#7c7c7c" stroke-width="1.1" />
<line x1="401.27" y1="259.70" x2="401.27" y2="387.30" stroke="#7c7c7c" stroke-width="1.1" />
<line x1="399.05" y1="372.90" x2="399.05" y2="387.30" stroke="#666" stroke-width="1.0" />
<rect x="419.65" y="100.60" width="3.25" height="24.49" fill="#fff" stroke="none" stroke-width="1" fill-opacity="0.6"/>
<path d="M419.35 127.04V100.60H423.20V123.12" fill="none" stroke="#848484" stroke-width="1.3"/>
<rect x="420.05" y="118.42" width="2.45" height="6.66" fill="#fff" stroke="none" stroke-width="1" />
<line x1="418.85" y1="118.42" x2="423.70" y2="118.42" stroke="#3a3a3a" stroke-width="1.2" />
<rect x="419.05" y="251.30" width="4.45" height="136.00" fill="#fff" stroke="none" stroke-width="1" />
<line x1="419.05" y1="251.30" x2="419.05" y2="387.30" stroke="#7c7c7c" stroke-width="1.1" />
<line x1="423.50" y1="251.30" x2="423.50" y2="387.30" stroke="#7c7c7c" stroke-width="1.1" />
<line x1="421.27" y1="372.90" x2="421.27" y2="387.30" stroke="#666" stroke-width="1.0" />
<rect x="441.88" y="80.68" width="3.25" height="24.85" fill="#fff" stroke="none" stroke-width="1" fill-opacity="0.6"/>
<path d="M441.58 107.49V80.68H445.43V103.57" fill="none" stroke="#848484" stroke-width="1.3"/>
<rect x="442.28" y="98.87" width="2.45" height="6.66" fill="#fff" stroke="none" stroke-width="1" />
<line x1="441.08" y1="98.87" x2="445.93" y2="98.87" stroke="#3a3a3a" stroke-width="1.2" />
<rect x="441.28" y="242.90" width="4.45" height="144.40" fill="#fff" stroke="none" stroke-width="1" />
<line x1="441.28" y1="242.90" x2="441.28" y2="387.30" stroke="#7c7c7c" stroke-width="1.1" />
<line x1="445.73" y1="242.90" x2="445.73" y2="387.30" stroke="#7c7c7c" stroke-width="1.1" />
<line x1="443.50" y1="372.90" x2="443.50" y2="387.30" stroke="#666" stroke-width="1.0" />
<rect x="464.11" y="60.76" width="3.25" height="25.22" fill="#fff" stroke="none" stroke-width="1" fill-opacity="0.6"/>
<path d="M463.81 87.94V60.76H467.66V84.02" fill="none" stroke="#848484" stroke-width="1.3"/>
<rect x="464.51" y="79.32" width="2.45" height="6.66" fill="#fff" stroke="none" stroke-width="1" />
<line x1="463.31" y1="79.32" x2="468.16" y2="79.32" stroke="#3a3a3a" stroke-width="1.2" />
<rect x="463.51" y="234.50" width="4.45" height="152.80" fill="#fff" stroke="none" stroke-width="1" />
<line x1="463.51" y1="234.50" x2="463.51" y2="387.30" stroke="#7c7c7c" stroke-width="1.1" />
<line x1="467.96" y1="234.50" x2="467.96" y2="387.30" stroke="#7c7c7c" stroke-width="1.1" />
<line x1="465.74" y1="372.90" x2="465.74" y2="387.30" stroke="#666" stroke-width="1.0" />
<rect x="305.60" y="229.61" width="2.30" height="7.60" fill="#b4b4b4" stroke="#444" stroke-width="0.9" />
<rect x="312.35" y="223.67" width="2.30" height="7.60" fill="#b4b4b4" stroke="#444" stroke-width="0.9" />
<rect x="305.50" y="286.30" width="9.25" height="7.00" fill="#c4c4c4" stroke="#444" stroke-width="1.0" />
<rect x="327.83" y="210.05" width="2.30" height="7.60" fill="#b4b4b4" stroke="#444" stroke-width="0.9" />
<rect x="334.58" y="204.12" width="2.30" height="7.60" fill="#b4b4b4" stroke="#444" stroke-width="0.9" />
<rect x="327.73" y="277.90" width="9.25" height="7.00" fill="#c4c4c4" stroke="#444" stroke-width="1.0" />
<rect x="350.06" y="190.50" width="2.30" height="7.60" fill="#b4b4b4" stroke="#444" stroke-width="0.9" />
<rect x="356.81" y="184.57" width="2.30" height="7.60" fill="#b4b4b4" stroke="#444" stroke-width="0.9" />
<rect x="349.96" y="269.50" width="9.25" height="7.00" fill="#c4c4c4" stroke="#444" stroke-width="1.0" />
<rect x="372.29" y="170.95" width="2.30" height="7.60" fill="#b4b4b4" stroke="#444" stroke-width="0.9" />
<rect x="379.04" y="165.02" width="2.30" height="7.60" fill="#b4b4b4" stroke="#444" stroke-width="0.9" />
<rect x="372.19" y="261.10" width="9.25" height="7.00" fill="#c4c4c4" stroke="#444" stroke-width="1.0" />
<rect x="394.52" y="151.40" width="2.30" height="7.60" fill="#b4b4b4" stroke="#444" stroke-width="0.9" />
<rect x="401.27" y="145.46" width="2.30" height="7.60" fill="#b4b4b4" stroke="#444" stroke-width="0.9" />
<rect x="394.42" y="252.70" width="9.25" height="7.00" fill="#c4c4c4" stroke="#444" stroke-width="1.0" />
<rect x="416.75" y="131.85" width="2.30" height="7.60" fill="#b4b4b4" stroke="#444" stroke-width="0.9" />
<rect x="423.50" y="125.91" width="2.30" height="7.60" fill="#b4b4b4" stroke="#444" stroke-width="0.9" />
<rect x="416.65" y="244.30" width="9.25" height="7.00" fill="#c4c4c4" stroke="#444" stroke-width="1.0" />
<rect x="438.98" y="112.30" width="2.30" height="7.60" fill="#b4b4b4" stroke="#444" stroke-width="0.9" />
<rect x="445.73" y="106.36" width="2.30" height="7.60" fill="#b4b4b4" stroke="#444" stroke-width="0.9" />
<rect x="438.88" y="235.90" width="9.25" height="7.00" fill="#c4c4c4" stroke="#444" stroke-width="1.0" />
<rect x="461.21" y="92.75" width="2.30" height="7.60" fill="#b4b4b4" stroke="#444" stroke-width="0.9" />
<rect x="467.96" y="86.81" width="2.30" height="7.60" fill="#b4b4b4" stroke="#444" stroke-width="0.9" />
<rect x="461.11" y="227.50" width="9.25" height="7.00" fill="#c4c4c4" stroke="#444" stroke-width="1.0" />
<rect x="307.90" y="225.64" width="4.45" height="67.66" fill="#fff" stroke="none" stroke-width="1" />
<line x1="307.90" y1="228.59" x2="307.90" y2="293.30" stroke="#2e2e2e" stroke-width="1.3" />
<line x1="312.35" y1="224.68" x2="312.35" y2="293.30" stroke="#2e2e2e" stroke-width="1.3" />
<line x1="305.50" y1="293.30" x2="314.75" y2="293.30" stroke="#333" stroke-width="1.0" />
<rect x="330.13" y="206.09" width="4.45" height="78.81" fill="#fff" stroke="none" stroke-width="1" />
<line x1="330.13" y1="209.04" x2="330.13" y2="284.90" stroke="#2e2e2e" stroke-width="1.3" />
<line x1="334.58" y1="205.13" x2="334.58" y2="284.90" stroke="#2e2e2e" stroke-width="1.3" />
<line x1="327.73" y1="284.90" x2="336.98" y2="284.90" stroke="#333" stroke-width="1.0" />
<rect x="352.36" y="186.54" width="4.45" height="89.96" fill="#fff" stroke="none" stroke-width="1" />
<line x1="352.36" y1="189.49" x2="352.36" y2="276.50" stroke="#2e2e2e" stroke-width="1.3" />
<line x1="356.81" y1="185.58" x2="356.81" y2="276.50" stroke="#2e2e2e" stroke-width="1.3" />
<line x1="349.96" y1="276.50" x2="359.21" y2="276.50" stroke="#333" stroke-width="1.0" />
<rect x="374.59" y="166.98" width="4.45" height="101.12" fill="#fff" stroke="none" stroke-width="1" />
<line x1="374.59" y1="169.94" x2="374.59" y2="268.10" stroke="#2e2e2e" stroke-width="1.3" />
<line x1="379.04" y1="166.03" x2="379.04" y2="268.10" stroke="#2e2e2e" stroke-width="1.3" />
<line x1="372.19" y1="268.10" x2="381.44" y2="268.10" stroke="#333" stroke-width="1.0" />
<rect x="396.82" y="147.43" width="4.45" height="112.27" fill="#fff" stroke="none" stroke-width="1" />
<line x1="396.82" y1="150.39" x2="396.82" y2="259.70" stroke="#2e2e2e" stroke-width="1.3" />
<line x1="401.27" y1="146.48" x2="401.27" y2="259.70" stroke="#2e2e2e" stroke-width="1.3" />
<line x1="394.42" y1="259.70" x2="403.67" y2="259.70" stroke="#333" stroke-width="1.0" />
<rect x="419.05" y="127.88" width="4.45" height="123.42" fill="#fff" stroke="none" stroke-width="1" />
<line x1="419.05" y1="130.84" x2="419.05" y2="251.30" stroke="#2e2e2e" stroke-width="1.3" />
<line x1="423.50" y1="126.92" x2="423.50" y2="251.30" stroke="#2e2e2e" stroke-width="1.3" />
<line x1="416.65" y1="251.30" x2="425.90" y2="251.30" stroke="#333" stroke-width="1.0" />
<rect x="441.28" y="108.33" width="4.45" height="134.57" fill="#fff" stroke="none" stroke-width="1" />
<line x1="441.28" y1="111.29" x2="441.28" y2="242.90" stroke="#2e2e2e" stroke-width="1.3" />
<line x1="445.73" y1="107.37" x2="445.73" y2="242.90" stroke="#2e2e2e" stroke-width="1.3" />
<line x1="438.88" y1="242.90" x2="448.13" y2="242.90" stroke="#333" stroke-width="1.0" />
<rect x="463.51" y="88.78" width="4.45" height="145.72" fill="#fff" stroke="none" stroke-width="1" />
<line x1="463.51" y1="91.74" x2="463.51" y2="234.50" stroke="#2e2e2e" stroke-width="1.3" />
<line x1="467.96" y1="87.82" x2="467.96" y2="234.50" stroke="#2e2e2e" stroke-width="1.3" />
<line x1="461.11" y1="234.50" x2="470.36" y2="234.50" stroke="#333" stroke-width="1.0" />
<polygon points="305.4,226.99 470.6,81.70 470.6,86.50 305.4,231.79" fill="#fff"/>
<line x1="305.40" y1="226.99" x2="470.60" y2="81.70" stroke="#2a2a2a" stroke-width="1.0" />
<line x1="305.40" y1="231.79" x2="470.60" y2="86.50" stroke="#2a2a2a" stroke-width="1.0" />
<line x1="305.40" y1="196.62" x2="305.40" y2="383.20" stroke="#5e5e5e" stroke-width="1.2" />
<line x1="470.60" y1="48.60" x2="470.60" y2="383.20" stroke="#777" stroke-width="1.0" />
<line x1="305.40" y1="383.20" x2="470.60" y2="383.20" stroke="#555" stroke-width="1.0" />
<path d="M305.40 199.22V196.62L470.60 48.60" fill="none" stroke="#141414" stroke-width="1.15" stroke-linejoin="miter"/>
<line x1="12.30" y1="387.30" x2="763.60" y2="387.30" stroke="#505050" stroke-width="1.0" />
<path d="M392.00 62.90L410.80 62.90L454.70 97.90" fill="none" stroke="#9c9c9c" stroke-width="0.8"/>
<rect x="453.30" y="96.50" width="2.80" height="2.80" fill="#6a6a6a" stroke="none" stroke-width="1" />
<path d="M387.90 97.10L409.20 97.10L439.60 116.60" fill="none" stroke="#9c9c9c" stroke-width="0.8"/>
<rect x="438.20" y="115.20" width="2.80" height="2.80" fill="#6a6a6a" stroke="none" stroke-width="1" />
<path d="M354.40 124.50L371.90 124.50L421.40 146.30" fill="none" stroke="#9c9c9c" stroke-width="0.8"/>
<rect x="420.00" y="144.90" width="2.80" height="2.80" fill="#6a6a6a" stroke="none" stroke-width="1" />
<path d="M338.50 147.00L347.60 147.00L376.50 153.10" fill="none" stroke="#9c9c9c" stroke-width="0.8"/>
<rect x="375.10" y="151.70" width="2.80" height="2.80" fill="#6a6a6a" stroke="none" stroke-width="1" />
<path d="M254.20 318.00L264.70 318.00L332.50 332.90" fill="none" stroke="#9c9c9c" stroke-width="0.8"/>
<rect x="331.10" y="331.50" width="2.80" height="2.80" fill="#6a6a6a" stroke="none" stroke-width="1" />
<path d="M528.10 143.10L520.20 143.10L453.80 164.80" fill="none" stroke="#9c9c9c" stroke-width="0.8"/>
<rect x="452.40" y="163.40" width="2.80" height="2.80" fill="#6a6a6a" stroke="none" stroke-width="1" />
<path d="M528.10 206.10L515.60 206.10L468.50 230.30" fill="none" stroke="#9c9c9c" stroke-width="0.8"/>
<rect x="467.10" y="228.90" width="2.80" height="2.80" fill="#6a6a6a" stroke="none" stroke-width="1" />
<path d="M528.70 353.70L512.70 353.70L466.00 383.90" fill="none" stroke="#9c9c9c" stroke-width="0.8"/>
<rect x="464.60" y="382.20" width="2.80" height="2.80" fill="#6a6a6a" stroke="none" stroke-width="1" />
<rect x="464.40" y="382.00" width="3.20" height="3.20" fill="#5a5a5a" stroke="none" stroke-width="1" />
<path d="M744.40 319.10L726.40 319.10L713.40 387.90" fill="none" stroke="#9c9c9c" stroke-width="0.8"/>
<line x1="288.50" y1="190.00" x2="288.50" y2="397.00" stroke="#555" stroke-width="0.9" />
<line x1="277.90" y1="196.50" x2="299.00" y2="196.50" stroke="#888" stroke-width="0.8" />
<line x1="277.90" y1="199.40" x2="299.00" y2="199.40" stroke="#888" stroke-width="0.8" />
<line x1="289.00" y1="227.40" x2="299.00" y2="227.40" stroke="#888" stroke-width="0.8" />
<line x1="272.20" y1="231.10" x2="299.00" y2="231.10" stroke="#888" stroke-width="0.8" />
<line x1="277.90" y1="237.70" x2="299.00" y2="237.70" stroke="#888" stroke-width="0.8" />
<line x1="277.90" y1="286.50" x2="299.00" y2="286.50" stroke="#888" stroke-width="0.8" />
<line x1="277.90" y1="293.60" x2="299.00" y2="293.60" stroke="#888" stroke-width="0.8" />
<line x1="277.90" y1="383.40" x2="299.00" y2="383.40" stroke="#888" stroke-width="0.8" />
<line x1="288.50" y1="387.40" x2="288.50" y2="387.40" stroke="#888" stroke-width="0.8" />
<line x1="282.70" y1="192.10" x2="294.30" y2="200.90" stroke="#111" stroke-width="1.3" />
<line x1="282.70" y1="195.00" x2="294.30" y2="203.80" stroke="#111" stroke-width="1.3" />
<line x1="282.70" y1="223.00" x2="294.30" y2="231.80" stroke="#111" stroke-width="1.3" />
<line x1="282.70" y1="226.70" x2="294.30" y2="235.50" stroke="#111" stroke-width="1.3" />
<line x1="282.70" y1="233.30" x2="294.30" y2="242.10" stroke="#111" stroke-width="1.3" />
<line x1="282.70" y1="282.10" x2="294.30" y2="290.90" stroke="#111" stroke-width="1.3" />
<line x1="282.70" y1="289.20" x2="294.30" y2="298.00" stroke="#111" stroke-width="1.3" />
<line x1="282.70" y1="379.00" x2="294.30" y2="387.80" stroke="#111" stroke-width="1.3" />
<line x1="282.70" y1="383.00" x2="294.30" y2="391.80" stroke="#111" stroke-width="1.3" />
<line x1="503.50" y1="42.10" x2="503.50" y2="397.00" stroke="#555" stroke-width="0.9" />
<line x1="492.90" y1="48.60" x2="514.00" y2="48.60" stroke="#888" stroke-width="0.8" />
<line x1="492.90" y1="61.50" x2="514.00" y2="61.50" stroke="#888" stroke-width="0.8" />
<line x1="492.90" y1="87.00" x2="514.00" y2="87.00" stroke="#888" stroke-width="0.8" />
<line x1="492.90" y1="94.20" x2="514.00" y2="94.20" stroke="#888" stroke-width="0.8" />
<line x1="492.90" y1="227.80" x2="514.00" y2="227.80" stroke="#888" stroke-width="0.8" />
<line x1="492.90" y1="234.60" x2="514.00" y2="234.60" stroke="#888" stroke-width="0.8" />
<line x1="492.90" y1="383.30" x2="514.00" y2="383.30" stroke="#888" stroke-width="0.8" />
<line x1="503.50" y1="387.40" x2="503.50" y2="387.40" stroke="#888" stroke-width="0.8" />
<line x1="497.70" y1="44.20" x2="509.30" y2="53.00" stroke="#111" stroke-width="1.3" />
<line x1="497.70" y1="57.10" x2="509.30" y2="65.90" stroke="#111" stroke-width="1.3" />
<line x1="497.70" y1="82.60" x2="509.30" y2="91.40" stroke="#111" stroke-width="1.3" />
<line x1="497.70" y1="89.80" x2="509.30" y2="98.60" stroke="#111" stroke-width="1.3" />
<line x1="497.70" y1="223.40" x2="509.30" y2="232.20" stroke="#111" stroke-width="1.3" />
<line x1="497.70" y1="230.20" x2="509.30" y2="239.00" stroke="#111" stroke-width="1.3" />
<line x1="497.70" y1="378.90" x2="509.30" y2="387.70" stroke="#111" stroke-width="1.3" />
<line x1="497.70" y1="383.00" x2="509.30" y2="391.80" stroke="#111" stroke-width="1.3" />
<rect x="279.50" y="391.60" width="8.40" height="8.00" fill="#fff" stroke="none" stroke-width="1" />
<rect x="494.50" y="391.00" width="8.40" height="8.60" fill="#fff" stroke="none" stroke-width="1" />
<text transform="translate(287.60 192.35) scale(1.284 1) rotate(-90)" font-size="7.7" fill="#262626" font-weight="normal" textLength="4.10" lengthAdjust="spacingAndGlyphs" stroke="#262626" stroke-width="0.28">9</text>
<text transform="translate(287.40 217.57) scale(1.284 1) rotate(-90)" font-size="7.7" fill="#262626" font-weight="normal" textLength="7.34" lengthAdjust="spacingAndGlyphs" stroke="#262626" stroke-width="0.28">81</text>
<text transform="translate(280.30 232.16) scale(1.284 1) rotate(-90)" font-size="7.7" fill="#262626" font-weight="normal" textLength="7.13" lengthAdjust="spacingAndGlyphs" stroke="#262626" stroke-width="0.28">10</text>
<text transform="translate(287.40 249.87) scale(1.284 1) rotate(-90)" font-size="7.7" fill="#262626" font-weight="normal" textLength="7.34" lengthAdjust="spacingAndGlyphs" stroke="#262626" stroke-width="0.28">20</text>
<text transform="translate(287.40 272.36) scale(1.284 1) rotate(-90)" font-size="7.7" fill="#262626" font-weight="normal" textLength="12.31" lengthAdjust="spacingAndGlyphs" stroke="#262626" stroke-width="0.28">1,41</text>
<text transform="translate(287.40 305.57) scale(1.284 1) rotate(-90)" font-size="7.7" fill="#262626" font-weight="normal" textLength="7.34" lengthAdjust="spacingAndGlyphs" stroke="#262626" stroke-width="0.28">20</text>
<text transform="translate(287.40 349.57) scale(1.284 1) rotate(-90)" font-size="7.7" fill="#262626" font-weight="normal" textLength="13.93" lengthAdjust="spacingAndGlyphs" stroke="#262626" stroke-width="0.28">2,58</text>
<text transform="translate(287.40 399.07) scale(1.284 1) rotate(-90)" font-size="7.7" fill="#262626" font-weight="normal" textLength="7.34" lengthAdjust="spacingAndGlyphs" stroke="#262626" stroke-width="0.28">12</text>
<text transform="translate(502.40 44.10) scale(1.284 1) rotate(-90)" font-size="7.7" fill="#262626" font-weight="normal" textLength="7.99" lengthAdjust="spacingAndGlyphs" stroke="#262626" stroke-width="0.28">38</text>
<text transform="translate(502.40 77.70) scale(1.284 1) rotate(-90)" font-size="7.7" fill="#262626" font-weight="normal" textLength="7.99" lengthAdjust="spacingAndGlyphs" stroke="#262626" stroke-width="0.28">73</text>
<text transform="translate(502.40 106.73) scale(1.284 1) rotate(-90)" font-size="7.7" fill="#262626" font-weight="normal" textLength="7.45" lengthAdjust="spacingAndGlyphs" stroke="#262626" stroke-width="0.28">21</text>
<text transform="translate(502.40 172.10) scale(1.284 1) rotate(-90)" font-size="7.7" fill="#262626" font-weight="normal" textLength="14.80" lengthAdjust="spacingAndGlyphs" stroke="#262626" stroke-width="0.28">3,85</text>
<text transform="translate(502.40 246.47) scale(1.284 1) rotate(-90)" font-size="7.7" fill="#262626" font-weight="normal" textLength="7.34" lengthAdjust="spacingAndGlyphs" stroke="#262626" stroke-width="0.28">20</text>
<text transform="translate(502.40 320.50) scale(1.284 1) rotate(-90)" font-size="7.7" fill="#262626" font-weight="normal" textLength="14.80" lengthAdjust="spacingAndGlyphs" stroke="#262626" stroke-width="0.28">4,28</text>
<text transform="translate(502.40 398.67) scale(1.284 1) rotate(-90)" font-size="7.7" fill="#262626" font-weight="normal" textLength="7.34" lengthAdjust="spacingAndGlyphs" stroke="#262626" stroke-width="0.28">12</text>
<line x1="298.80" y1="450.60" x2="471.50" y2="450.60" stroke="#555" stroke-width="0.9" />
<line x1="305.40" y1="444.50" x2="305.40" y2="458.80" stroke="#888" stroke-width="0.8" />
<line x1="307.90" y1="444.50" x2="307.90" y2="458.80" stroke="#888" stroke-width="0.8" />
<line x1="312.35" y1="444.50" x2="312.35" y2="458.80" stroke="#888" stroke-width="0.8" />
<line x1="330.13" y1="444.50" x2="330.13" y2="458.80" stroke="#888" stroke-width="0.8" />
<line x1="334.58" y1="444.50" x2="334.58" y2="458.80" stroke="#888" stroke-width="0.8" />
<line x1="352.36" y1="444.50" x2="352.36" y2="458.80" stroke="#888" stroke-width="0.8" />
<line x1="356.81" y1="444.50" x2="356.81" y2="458.80" stroke="#888" stroke-width="0.8" />
<line x1="374.59" y1="444.50" x2="374.59" y2="458.80" stroke="#888" stroke-width="0.8" />
<line x1="379.04" y1="444.50" x2="379.04" y2="458.80" stroke="#888" stroke-width="0.8" />
<line x1="396.82" y1="444.50" x2="396.82" y2="458.80" stroke="#888" stroke-width="0.8" />
<line x1="401.27" y1="444.50" x2="401.27" y2="458.80" stroke="#888" stroke-width="0.8" />
<line x1="419.05" y1="444.50" x2="419.05" y2="458.80" stroke="#888" stroke-width="0.8" />
<line x1="423.50" y1="444.50" x2="423.50" y2="458.80" stroke="#888" stroke-width="0.8" />
<line x1="441.28" y1="444.50" x2="441.28" y2="458.80" stroke="#888" stroke-width="0.8" />
<line x1="445.73" y1="444.50" x2="445.73" y2="458.80" stroke="#888" stroke-width="0.8" />
<line x1="463.51" y1="444.50" x2="463.51" y2="458.80" stroke="#888" stroke-width="0.8" />
<line x1="467.96" y1="444.50" x2="467.96" y2="458.80" stroke="#888" stroke-width="0.8" />
<line x1="470.60" y1="444.50" x2="470.60" y2="458.80" stroke="#888" stroke-width="0.8" />
<line x1="299.10" y1="454.80" x2="311.70" y2="446.40" stroke="#111" stroke-width="1.3" />
<line x1="301.60" y1="454.80" x2="314.20" y2="446.40" stroke="#111" stroke-width="1.3" />
<line x1="306.05" y1="454.80" x2="318.65" y2="446.40" stroke="#111" stroke-width="1.3" />
<line x1="323.83" y1="454.80" x2="336.43" y2="446.40" stroke="#111" stroke-width="1.3" />
<line x1="328.28" y1="454.80" x2="340.88" y2="446.40" stroke="#111" stroke-width="1.3" />
<line x1="346.06" y1="454.80" x2="358.66" y2="446.40" stroke="#111" stroke-width="1.3" />
<line x1="350.51" y1="454.80" x2="363.11" y2="446.40" stroke="#111" stroke-width="1.3" />
<line x1="368.29" y1="454.80" x2="380.89" y2="446.40" stroke="#111" stroke-width="1.3" />
<line x1="372.74" y1="454.80" x2="385.34" y2="446.40" stroke="#111" stroke-width="1.3" />
<line x1="390.52" y1="454.80" x2="403.12" y2="446.40" stroke="#111" stroke-width="1.3" />
<line x1="394.97" y1="454.80" x2="407.57" y2="446.40" stroke="#111" stroke-width="1.3" />
<line x1="412.75" y1="454.80" x2="425.35" y2="446.40" stroke="#111" stroke-width="1.3" />
<line x1="417.20" y1="454.80" x2="429.80" y2="446.40" stroke="#111" stroke-width="1.3" />
<line x1="434.98" y1="454.80" x2="447.58" y2="446.40" stroke="#111" stroke-width="1.3" />
<line x1="439.43" y1="454.80" x2="452.03" y2="446.40" stroke="#111" stroke-width="1.3" />
<line x1="457.21" y1="454.80" x2="469.81" y2="446.40" stroke="#111" stroke-width="1.3" />
<line x1="461.66" y1="454.80" x2="474.26" y2="446.40" stroke="#111" stroke-width="1.3" />
<line x1="464.30" y1="454.80" x2="476.90" y2="446.40" stroke="#111" stroke-width="1.3" />
<text x="295.40" y="449.60" font-size="7.4" fill="#262626" font-weight="normal" textLength="4.90" lengthAdjust="spacingAndGlyphs" stroke="#262626" stroke-width="0.3">5</text>
<text x="475.90" y="449.60" font-size="7.4" fill="#262626" font-weight="normal" textLength="4.90" lengthAdjust="spacingAndGlyphs" stroke="#262626" stroke-width="0.3">5</text>
<text x="306.50" y="443.90" font-size="7.4" fill="#262626" font-weight="normal" textLength="8.80" lengthAdjust="spacingAndGlyphs" stroke="#262626" stroke-width="0.3">10</text>
<text x="316.70" y="437.70" font-size="7.4" fill="#262626" font-weight="normal" textLength="9.60" lengthAdjust="spacingAndGlyphs" stroke="#262626" stroke-width="0.3">40</text>
<text x="328.73" y="443.90" font-size="7.4" fill="#262626" font-weight="normal" textLength="8.80" lengthAdjust="spacingAndGlyphs" stroke="#262626" stroke-width="0.3">10</text>
<text x="338.93" y="437.70" font-size="7.4" fill="#262626" font-weight="normal" textLength="9.60" lengthAdjust="spacingAndGlyphs" stroke="#262626" stroke-width="0.3">40</text>
<text x="350.96" y="443.90" font-size="7.4" fill="#262626" font-weight="normal" textLength="8.80" lengthAdjust="spacingAndGlyphs" stroke="#262626" stroke-width="0.3">10</text>
<text x="361.16" y="437.70" font-size="7.4" fill="#262626" font-weight="normal" textLength="9.60" lengthAdjust="spacingAndGlyphs" stroke="#262626" stroke-width="0.3">40</text>
<text x="373.19" y="443.90" font-size="7.4" fill="#262626" font-weight="normal" textLength="8.80" lengthAdjust="spacingAndGlyphs" stroke="#262626" stroke-width="0.3">10</text>
<text x="383.39" y="437.70" font-size="7.4" fill="#262626" font-weight="normal" textLength="9.60" lengthAdjust="spacingAndGlyphs" stroke="#262626" stroke-width="0.3">40</text>
<text x="395.42" y="443.90" font-size="7.4" fill="#262626" font-weight="normal" textLength="8.80" lengthAdjust="spacingAndGlyphs" stroke="#262626" stroke-width="0.3">10</text>
<text x="405.62" y="437.70" font-size="7.4" fill="#262626" font-weight="normal" textLength="9.60" lengthAdjust="spacingAndGlyphs" stroke="#262626" stroke-width="0.3">40</text>
<text x="417.65" y="443.90" font-size="7.4" fill="#262626" font-weight="normal" textLength="8.80" lengthAdjust="spacingAndGlyphs" stroke="#262626" stroke-width="0.3">10</text>
<text x="427.85" y="437.70" font-size="7.4" fill="#262626" font-weight="normal" textLength="9.60" lengthAdjust="spacingAndGlyphs" stroke="#262626" stroke-width="0.3">40</text>
<text x="439.88" y="443.90" font-size="7.4" fill="#262626" font-weight="normal" textLength="8.80" lengthAdjust="spacingAndGlyphs" stroke="#262626" stroke-width="0.3">10</text>
<text x="450.08" y="437.70" font-size="7.4" fill="#262626" font-weight="normal" textLength="9.60" lengthAdjust="spacingAndGlyphs" stroke="#262626" stroke-width="0.3">40</text>
<text x="462.11" y="443.90" font-size="7.4" fill="#262626" font-weight="normal" textLength="8.80" lengthAdjust="spacingAndGlyphs" stroke="#262626" stroke-width="0.3">10</text>
<polygon points="237.80,189.10 258.00,189.10 247.90,196.70" fill="#0a0a0a"/>
<line x1="240.80" y1="196.50" x2="254.50" y2="196.50" stroke="#777" stroke-width="0.8" />
<text x="248.50" y="188.30" font-size="7.6" fill="#222" font-weight="normal" textLength="23.60" lengthAdjust="spacingAndGlyphs" stroke="#222" stroke-width="0.25">+5,52</text>
<polygon points="237.80,286.00 258.00,286.00 247.90,293.60" fill="#0a0a0a"/>
<line x1="240.80" y1="293.40" x2="254.50" y2="293.40" stroke="#777" stroke-width="0.8" />
<text x="248.50" y="285.20" font-size="7.6" fill="#222" font-weight="normal" textLength="23.60" lengthAdjust="spacingAndGlyphs" stroke="#222" stroke-width="0.25">+2,70</text>
<polygon points="237.80,376.00 258.00,376.00 247.90,383.60" fill="#0a0a0a"/>
<line x1="240.80" y1="383.40" x2="254.50" y2="383.40" stroke="#777" stroke-width="0.8" />
<text x="248.50" y="375.20" font-size="7.6" fill="#222" font-weight="normal" textLength="23.60" lengthAdjust="spacingAndGlyphs" stroke="#222" stroke-width="0.25">+0,12</text>
<polygon points="521.50,41.20 541.70,41.20 531.60,48.80" fill="#0a0a0a"/>
<line x1="524.50" y1="48.60" x2="538.20" y2="48.60" stroke="#777" stroke-width="0.8" />
<text x="532.20" y="40.40" font-size="7.6" fill="#222" font-weight="normal" textLength="23.60" lengthAdjust="spacingAndGlyphs" stroke="#222" stroke-width="0.25">+9,77</text>
<polygon points="521.50,379.90 541.70,379.90 531.60,387.50" fill="#0a0a0a"/>
<line x1="524.50" y1="387.30" x2="538.20" y2="387.30" stroke="#777" stroke-width="0.8" />
<text x="532.20" y="379.10" font-size="7.6" fill="#222" font-weight="normal" textLength="23.60" lengthAdjust="spacingAndGlyphs" stroke="#222" stroke-width="0.25">±0,00</text>
<text x="311.00" y="66.70" font-size="10.0" fill="#2b2b2b" font-weight="normal" textLength="77.80" lengthAdjust="spacingAndGlyphs" >Gerinc 10/10</text>
<text x="278.80" y="103.10" font-size="10.0" fill="#2b2b2b" font-weight="normal" textLength="105.30" lengthAdjust="spacingAndGlyphs" >Kakasülő 2 x 5/20</text>
<text x="249.90" y="128.30" font-size="10.0" fill="#2b2b2b" font-weight="normal" textLength="100.50" lengthAdjust="spacingAndGlyphs" >Székoszlop 10/10</text>
<text x="211.50" y="150.50" font-size="10.0" fill="#2b2b2b" font-weight="normal" textLength="123.20" lengthAdjust="spacingAndGlyphs" >Felső szarufa 10/17,5</text>
<text x="132.50" y="322.00" font-size="10.0" fill="#2b2b2b" font-weight="normal" textLength="117.70" lengthAdjust="spacingAndGlyphs" >Alsó szarufa 10/17,5</text>
<text x="532.40" y="147.20" font-size="10.0" fill="#2b2b2b" font-weight="normal" textLength="116.00" lengthAdjust="spacingAndGlyphs" >Deszka borítás 2/18</text>
<text x="532.40" y="209.90" font-size="10.0" fill="#2b2b2b" font-weight="normal" textLength="101.40" lengthAdjust="spacingAndGlyphs" >Fogópár 2 x 5/20</text>
<text x="532.40" y="357.90" font-size="10.0" fill="#2b2b2b" font-weight="normal" textLength="177.90" lengthAdjust="spacingAndGlyphs" >L3 - Szarufa befogó acélelem</text>
<text x="747.90" y="316.70" font-size="10.0" fill="#2b2b2b" font-weight="normal" textLength="126.10" lengthAdjust="spacingAndGlyphs" >Bontott tégla szegély</text>
<text x="747.90" y="329.50" font-size="10.0" fill="#2b2b2b" font-weight="normal" textLength="89.90" lengthAdjust="spacingAndGlyphs" >betonba rakva</text>
<text x="86.40" y="348.90" font-size="10" fill="#1c1c1c" font-weight="normal" textLength="31.80" lengthAdjust="spacingAndGlyphs" stroke="#1c1c1c" stroke-width="0.35">12 cm</text>
<text x="86.40" y="359.80" font-size="10" fill="#1c1c1c" font-weight="normal" textLength="31.80" lengthAdjust="spacingAndGlyphs" stroke="#1c1c1c" stroke-width="0.35">10 cm</text>
<text x="135.40" y="348.90" font-size="10" fill="#1c1c1c" font-weight="normal" textLength="68.30" lengthAdjust="spacingAndGlyphs" stroke="#1c1c1c" stroke-width="0.35">Bontott tégla</text>
<text x="135.40" y="359.80" font-size="10" fill="#1c1c1c" font-weight="normal" textLength="77.80" lengthAdjust="spacingAndGlyphs" stroke="#1c1c1c" stroke-width="0.35">Kavicsfeltöltés</text>
<text x="133.40" y="370.30" font-size="10" fill="#1c1c1c" font-weight="normal" textLength="65.00" lengthAdjust="spacingAndGlyphs" stroke="#1c1c1c" stroke-width="0.35">Termett talaj</text>
<text x="499.00" y="494.50" font-size="12.0" fill="#161616" font-weight="normal" textLength="343.30" lengthAdjust="spacingAndGlyphs" stroke="#161616" stroke-width="0.15">TEMETŐ EMLÉKHELY B-B METSZET, m= 1:100</text>
</svg>
</body>
</html>
